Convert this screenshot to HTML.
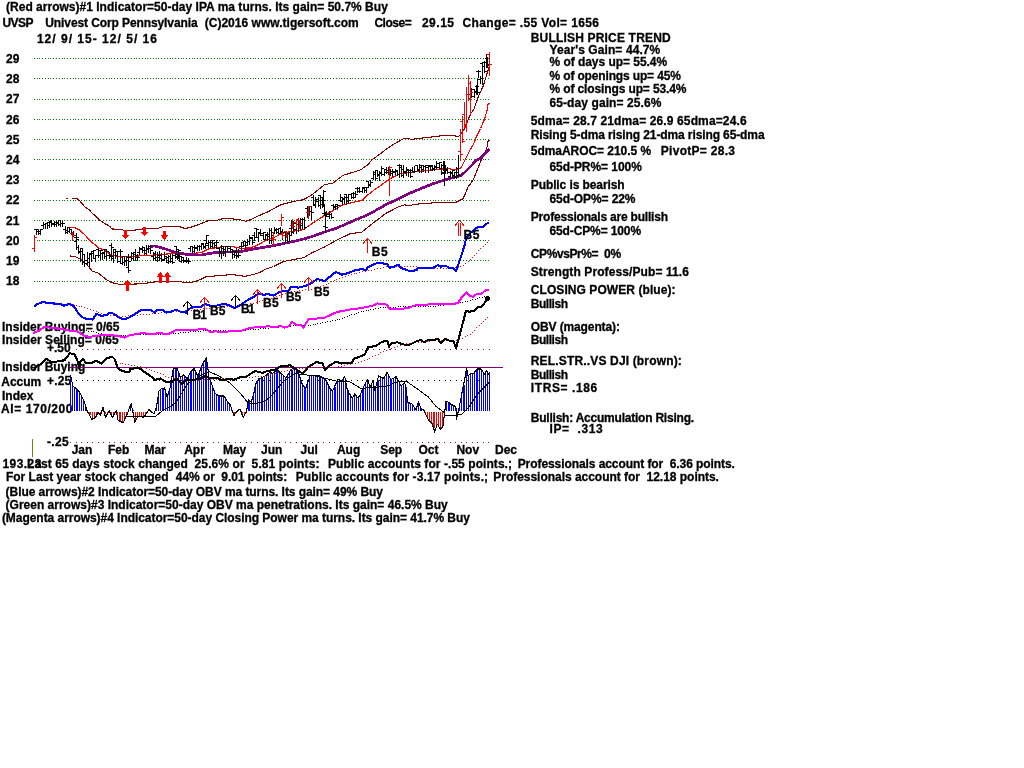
<!DOCTYPE html>
<html><head><meta charset="utf-8"><style>
html,body{margin:0;padding:0;background:#fff;width:1024px;height:768px;overflow:hidden}
.t{position:absolute;font:bold 12px/12px 'Liberation Sans', sans-serif;white-space:pre;color:#000;-webkit-text-stroke:0.3px #000}
#tx,#tb{position:absolute;left:0;top:0;width:1024px;height:768px;will-change:transform}
svg{position:absolute;left:0;top:0;shape-rendering:crispEdges}
</style></head><body>
<div id="tb">
<div class="t" style="left:2.00px;top:321.00px;letter-spacing:0.021px">Insider Buying= 0/65</div>
<div class="t" style="left:2.00px;top:334.00px;letter-spacing:0.050px">Insider Selling= 0/65</div>
<div class="t" style="left:47.00px;top:342.00px">+.50</div>
<div class="t" style="left:2.00px;top:361.00px">Insider Buying</div>
<div class="t" style="left:1.25px;top:376.00px">Accum</div>
<div class="t" style="left:47.00px;top:375.00px;letter-spacing:0.167px">+.25</div>
<div class="t" style="left:2.00px;top:390.00px">Index</div>
<div class="t" style="left:1.00px;top:403.00px;letter-spacing:0.575px">AI= 170/200</div>
</div>
<svg width="1024" height="768" viewBox="0 0 1024 768">
<path d="M34 58h1v1h-1zM37 58h1v1h-1zM39 58h1v1h-1zM42 58h1v1h-1zM45 58h1v1h-1zM48 58h1v1h-1zM50 58h1v1h-1zM53 58h1v1h-1zM56 58h1v1h-1zM59 58h1v1h-1zM62 58h1v1h-1zM64 58h1v1h-1zM67 58h1v1h-1zM70 58h1v1h-1zM73 58h1v1h-1zM75 58h1v1h-1zM78 58h1v1h-1zM81 58h1v1h-1zM84 58h1v1h-1zM86 58h1v1h-1zM89 58h1v1h-1zM92 58h1v1h-1zM95 58h1v1h-1zM98 58h1v1h-1zM100 58h1v1h-1zM103 58h1v1h-1zM106 58h1v1h-1zM109 58h1v1h-1zM111 58h1v1h-1zM114 58h1v1h-1zM117 58h1v1h-1zM120 58h1v1h-1zM122 58h1v1h-1zM125 58h1v1h-1zM128 58h1v1h-1zM131 58h1v1h-1zM134 58h1v1h-1zM136 58h1v1h-1zM139 58h1v1h-1zM142 58h1v1h-1zM145 58h1v1h-1zM147 58h1v1h-1zM150 58h1v1h-1zM153 58h1v1h-1zM156 58h1v1h-1zM158 58h1v1h-1zM161 58h1v1h-1zM164 58h1v1h-1zM167 58h1v1h-1zM170 58h1v1h-1zM172 58h1v1h-1zM175 58h1v1h-1zM178 58h1v1h-1zM181 58h1v1h-1zM183 58h1v1h-1zM186 58h1v1h-1zM189 58h1v1h-1zM192 58h1v1h-1zM194 58h1v1h-1zM197 58h1v1h-1zM200 58h1v1h-1zM203 58h1v1h-1zM206 58h1v1h-1zM208 58h1v1h-1zM211 58h1v1h-1zM214 58h1v1h-1zM217 58h1v1h-1zM219 58h1v1h-1zM222 58h1v1h-1zM225 58h1v1h-1zM228 58h1v1h-1zM230 58h1v1h-1zM233 58h1v1h-1zM236 58h1v1h-1zM239 58h1v1h-1zM242 58h1v1h-1zM244 58h1v1h-1zM247 58h1v1h-1zM250 58h1v1h-1zM253 58h1v1h-1zM255 58h1v1h-1zM258 58h1v1h-1zM261 58h1v1h-1zM264 58h1v1h-1zM266 58h1v1h-1zM269 58h1v1h-1zM272 58h1v1h-1zM275 58h1v1h-1zM278 58h1v1h-1zM280 58h1v1h-1zM283 58h1v1h-1zM286 58h1v1h-1zM289 58h1v1h-1zM291 58h1v1h-1zM294 58h1v1h-1zM297 58h1v1h-1zM300 58h1v1h-1zM302 58h1v1h-1zM305 58h1v1h-1zM308 58h1v1h-1zM311 58h1v1h-1zM314 58h1v1h-1zM316 58h1v1h-1zM319 58h1v1h-1zM322 58h1v1h-1zM325 58h1v1h-1zM327 58h1v1h-1zM330 58h1v1h-1zM333 58h1v1h-1zM336 58h1v1h-1zM339 58h1v1h-1zM341 58h1v1h-1zM344 58h1v1h-1zM347 58h1v1h-1zM350 58h1v1h-1zM352 58h1v1h-1zM355 58h1v1h-1zM358 58h1v1h-1zM361 58h1v1h-1zM363 58h1v1h-1zM366 58h1v1h-1zM369 58h1v1h-1zM372 58h1v1h-1zM375 58h1v1h-1zM377 58h1v1h-1zM380 58h1v1h-1zM383 58h1v1h-1zM386 58h1v1h-1zM388 58h1v1h-1zM391 58h1v1h-1zM394 58h1v1h-1zM397 58h1v1h-1zM399 58h1v1h-1zM402 58h1v1h-1zM405 58h1v1h-1zM408 58h1v1h-1zM411 58h1v1h-1zM413 58h1v1h-1zM416 58h1v1h-1zM419 58h1v1h-1zM422 58h1v1h-1zM424 58h1v1h-1zM427 58h1v1h-1zM430 58h1v1h-1zM433 58h1v1h-1zM435 58h1v1h-1zM438 58h1v1h-1zM441 58h1v1h-1zM444 58h1v1h-1zM447 58h1v1h-1zM449 58h1v1h-1zM452 58h1v1h-1zM455 58h1v1h-1zM458 58h1v1h-1zM460 58h1v1h-1zM463 58h1v1h-1zM466 58h1v1h-1zM469 58h1v1h-1zM471 58h1v1h-1zM474 58h1v1h-1zM477 58h1v1h-1zM480 58h1v1h-1zM483 58h1v1h-1zM485 58h1v1h-1zM488 58h1v1h-1zM34 78h1v1h-1zM37 78h1v1h-1zM39 78h1v1h-1zM42 78h1v1h-1zM45 78h1v1h-1zM48 78h1v1h-1zM50 78h1v1h-1zM53 78h1v1h-1zM56 78h1v1h-1zM59 78h1v1h-1zM62 78h1v1h-1zM64 78h1v1h-1zM67 78h1v1h-1zM70 78h1v1h-1zM73 78h1v1h-1zM75 78h1v1h-1zM78 78h1v1h-1zM81 78h1v1h-1zM84 78h1v1h-1zM86 78h1v1h-1zM89 78h1v1h-1zM92 78h1v1h-1zM95 78h1v1h-1zM98 78h1v1h-1zM100 78h1v1h-1zM103 78h1v1h-1zM106 78h1v1h-1zM109 78h1v1h-1zM111 78h1v1h-1zM114 78h1v1h-1zM117 78h1v1h-1zM120 78h1v1h-1zM122 78h1v1h-1zM125 78h1v1h-1zM128 78h1v1h-1zM131 78h1v1h-1zM134 78h1v1h-1zM136 78h1v1h-1zM139 78h1v1h-1zM142 78h1v1h-1zM145 78h1v1h-1zM147 78h1v1h-1zM150 78h1v1h-1zM153 78h1v1h-1zM156 78h1v1h-1zM158 78h1v1h-1zM161 78h1v1h-1zM164 78h1v1h-1zM167 78h1v1h-1zM170 78h1v1h-1zM172 78h1v1h-1zM175 78h1v1h-1zM178 78h1v1h-1zM181 78h1v1h-1zM183 78h1v1h-1zM186 78h1v1h-1zM189 78h1v1h-1zM192 78h1v1h-1zM194 78h1v1h-1zM197 78h1v1h-1zM200 78h1v1h-1zM203 78h1v1h-1zM206 78h1v1h-1zM208 78h1v1h-1zM211 78h1v1h-1zM214 78h1v1h-1zM217 78h1v1h-1zM219 78h1v1h-1zM222 78h1v1h-1zM225 78h1v1h-1zM228 78h1v1h-1zM230 78h1v1h-1zM233 78h1v1h-1zM236 78h1v1h-1zM239 78h1v1h-1zM242 78h1v1h-1zM244 78h1v1h-1zM247 78h1v1h-1zM250 78h1v1h-1zM253 78h1v1h-1zM255 78h1v1h-1zM258 78h1v1h-1zM261 78h1v1h-1zM264 78h1v1h-1zM266 78h1v1h-1zM269 78h1v1h-1zM272 78h1v1h-1zM275 78h1v1h-1zM278 78h1v1h-1zM280 78h1v1h-1zM283 78h1v1h-1zM286 78h1v1h-1zM289 78h1v1h-1zM291 78h1v1h-1zM294 78h1v1h-1zM297 78h1v1h-1zM300 78h1v1h-1zM302 78h1v1h-1zM305 78h1v1h-1zM308 78h1v1h-1zM311 78h1v1h-1zM314 78h1v1h-1zM316 78h1v1h-1zM319 78h1v1h-1zM322 78h1v1h-1zM325 78h1v1h-1zM327 78h1v1h-1zM330 78h1v1h-1zM333 78h1v1h-1zM336 78h1v1h-1zM339 78h1v1h-1zM341 78h1v1h-1zM344 78h1v1h-1zM347 78h1v1h-1zM350 78h1v1h-1zM352 78h1v1h-1zM355 78h1v1h-1zM358 78h1v1h-1zM361 78h1v1h-1zM363 78h1v1h-1zM366 78h1v1h-1zM369 78h1v1h-1zM372 78h1v1h-1zM375 78h1v1h-1zM377 78h1v1h-1zM380 78h1v1h-1zM383 78h1v1h-1zM386 78h1v1h-1zM388 78h1v1h-1zM391 78h1v1h-1zM394 78h1v1h-1zM397 78h1v1h-1zM399 78h1v1h-1zM402 78h1v1h-1zM405 78h1v1h-1zM408 78h1v1h-1zM411 78h1v1h-1zM413 78h1v1h-1zM416 78h1v1h-1zM419 78h1v1h-1zM422 78h1v1h-1zM424 78h1v1h-1zM427 78h1v1h-1zM430 78h1v1h-1zM433 78h1v1h-1zM435 78h1v1h-1zM438 78h1v1h-1zM441 78h1v1h-1zM444 78h1v1h-1zM447 78h1v1h-1zM449 78h1v1h-1zM452 78h1v1h-1zM455 78h1v1h-1zM458 78h1v1h-1zM460 78h1v1h-1zM463 78h1v1h-1zM466 78h1v1h-1zM469 78h1v1h-1zM471 78h1v1h-1zM474 78h1v1h-1zM477 78h1v1h-1zM480 78h1v1h-1zM483 78h1v1h-1zM485 78h1v1h-1zM488 78h1v1h-1zM34 99h1v1h-1zM37 99h1v1h-1zM39 99h1v1h-1zM42 99h1v1h-1zM45 99h1v1h-1zM48 99h1v1h-1zM50 99h1v1h-1zM53 99h1v1h-1zM56 99h1v1h-1zM59 99h1v1h-1zM62 99h1v1h-1zM64 99h1v1h-1zM67 99h1v1h-1zM70 99h1v1h-1zM73 99h1v1h-1zM75 99h1v1h-1zM78 99h1v1h-1zM81 99h1v1h-1zM84 99h1v1h-1zM86 99h1v1h-1zM89 99h1v1h-1zM92 99h1v1h-1zM95 99h1v1h-1zM98 99h1v1h-1zM100 99h1v1h-1zM103 99h1v1h-1zM106 99h1v1h-1zM109 99h1v1h-1zM111 99h1v1h-1zM114 99h1v1h-1zM117 99h1v1h-1zM120 99h1v1h-1zM122 99h1v1h-1zM125 99h1v1h-1zM128 99h1v1h-1zM131 99h1v1h-1zM134 99h1v1h-1zM136 99h1v1h-1zM139 99h1v1h-1zM142 99h1v1h-1zM145 99h1v1h-1zM147 99h1v1h-1zM150 99h1v1h-1zM153 99h1v1h-1zM156 99h1v1h-1zM158 99h1v1h-1zM161 99h1v1h-1zM164 99h1v1h-1zM167 99h1v1h-1zM170 99h1v1h-1zM172 99h1v1h-1zM175 99h1v1h-1zM178 99h1v1h-1zM181 99h1v1h-1zM183 99h1v1h-1zM186 99h1v1h-1zM189 99h1v1h-1zM192 99h1v1h-1zM194 99h1v1h-1zM197 99h1v1h-1zM200 99h1v1h-1zM203 99h1v1h-1zM206 99h1v1h-1zM208 99h1v1h-1zM211 99h1v1h-1zM214 99h1v1h-1zM217 99h1v1h-1zM219 99h1v1h-1zM222 99h1v1h-1zM225 99h1v1h-1zM228 99h1v1h-1zM230 99h1v1h-1zM233 99h1v1h-1zM236 99h1v1h-1zM239 99h1v1h-1zM242 99h1v1h-1zM244 99h1v1h-1zM247 99h1v1h-1zM250 99h1v1h-1zM253 99h1v1h-1zM255 99h1v1h-1zM258 99h1v1h-1zM261 99h1v1h-1zM264 99h1v1h-1zM266 99h1v1h-1zM269 99h1v1h-1zM272 99h1v1h-1zM275 99h1v1h-1zM278 99h1v1h-1zM280 99h1v1h-1zM283 99h1v1h-1zM286 99h1v1h-1zM289 99h1v1h-1zM291 99h1v1h-1zM294 99h1v1h-1zM297 99h1v1h-1zM300 99h1v1h-1zM302 99h1v1h-1zM305 99h1v1h-1zM308 99h1v1h-1zM311 99h1v1h-1zM314 99h1v1h-1zM316 99h1v1h-1zM319 99h1v1h-1zM322 99h1v1h-1zM325 99h1v1h-1zM327 99h1v1h-1zM330 99h1v1h-1zM333 99h1v1h-1zM336 99h1v1h-1zM339 99h1v1h-1zM341 99h1v1h-1zM344 99h1v1h-1zM347 99h1v1h-1zM350 99h1v1h-1zM352 99h1v1h-1zM355 99h1v1h-1zM358 99h1v1h-1zM361 99h1v1h-1zM363 99h1v1h-1zM366 99h1v1h-1zM369 99h1v1h-1zM372 99h1v1h-1zM375 99h1v1h-1zM377 99h1v1h-1zM380 99h1v1h-1zM383 99h1v1h-1zM386 99h1v1h-1zM388 99h1v1h-1zM391 99h1v1h-1zM394 99h1v1h-1zM397 99h1v1h-1zM399 99h1v1h-1zM402 99h1v1h-1zM405 99h1v1h-1zM408 99h1v1h-1zM411 99h1v1h-1zM413 99h1v1h-1zM416 99h1v1h-1zM419 99h1v1h-1zM422 99h1v1h-1zM424 99h1v1h-1zM427 99h1v1h-1zM430 99h1v1h-1zM433 99h1v1h-1zM435 99h1v1h-1zM438 99h1v1h-1zM441 99h1v1h-1zM444 99h1v1h-1zM447 99h1v1h-1zM449 99h1v1h-1zM452 99h1v1h-1zM455 99h1v1h-1zM458 99h1v1h-1zM460 99h1v1h-1zM463 99h1v1h-1zM466 99h1v1h-1zM469 99h1v1h-1zM471 99h1v1h-1zM474 99h1v1h-1zM477 99h1v1h-1zM480 99h1v1h-1zM483 99h1v1h-1zM485 99h1v1h-1zM488 99h1v1h-1zM34 119h1v1h-1zM37 119h1v1h-1zM39 119h1v1h-1zM42 119h1v1h-1zM45 119h1v1h-1zM48 119h1v1h-1zM50 119h1v1h-1zM53 119h1v1h-1zM56 119h1v1h-1zM59 119h1v1h-1zM62 119h1v1h-1zM64 119h1v1h-1zM67 119h1v1h-1zM70 119h1v1h-1zM73 119h1v1h-1zM75 119h1v1h-1zM78 119h1v1h-1zM81 119h1v1h-1zM84 119h1v1h-1zM86 119h1v1h-1zM89 119h1v1h-1zM92 119h1v1h-1zM95 119h1v1h-1zM98 119h1v1h-1zM100 119h1v1h-1zM103 119h1v1h-1zM106 119h1v1h-1zM109 119h1v1h-1zM111 119h1v1h-1zM114 119h1v1h-1zM117 119h1v1h-1zM120 119h1v1h-1zM122 119h1v1h-1zM125 119h1v1h-1zM128 119h1v1h-1zM131 119h1v1h-1zM134 119h1v1h-1zM136 119h1v1h-1zM139 119h1v1h-1zM142 119h1v1h-1zM145 119h1v1h-1zM147 119h1v1h-1zM150 119h1v1h-1zM153 119h1v1h-1zM156 119h1v1h-1zM158 119h1v1h-1zM161 119h1v1h-1zM164 119h1v1h-1zM167 119h1v1h-1zM170 119h1v1h-1zM172 119h1v1h-1zM175 119h1v1h-1zM178 119h1v1h-1zM181 119h1v1h-1zM183 119h1v1h-1zM186 119h1v1h-1zM189 119h1v1h-1zM192 119h1v1h-1zM194 119h1v1h-1zM197 119h1v1h-1zM200 119h1v1h-1zM203 119h1v1h-1zM206 119h1v1h-1zM208 119h1v1h-1zM211 119h1v1h-1zM214 119h1v1h-1zM217 119h1v1h-1zM219 119h1v1h-1zM222 119h1v1h-1zM225 119h1v1h-1zM228 119h1v1h-1zM230 119h1v1h-1zM233 119h1v1h-1zM236 119h1v1h-1zM239 119h1v1h-1zM242 119h1v1h-1zM244 119h1v1h-1zM247 119h1v1h-1zM250 119h1v1h-1zM253 119h1v1h-1zM255 119h1v1h-1zM258 119h1v1h-1zM261 119h1v1h-1zM264 119h1v1h-1zM266 119h1v1h-1zM269 119h1v1h-1zM272 119h1v1h-1zM275 119h1v1h-1zM278 119h1v1h-1zM280 119h1v1h-1zM283 119h1v1h-1zM286 119h1v1h-1zM289 119h1v1h-1zM291 119h1v1h-1zM294 119h1v1h-1zM297 119h1v1h-1zM300 119h1v1h-1zM302 119h1v1h-1zM305 119h1v1h-1zM308 119h1v1h-1zM311 119h1v1h-1zM314 119h1v1h-1zM316 119h1v1h-1zM319 119h1v1h-1zM322 119h1v1h-1zM325 119h1v1h-1zM327 119h1v1h-1zM330 119h1v1h-1zM333 119h1v1h-1zM336 119h1v1h-1zM339 119h1v1h-1zM341 119h1v1h-1zM344 119h1v1h-1zM347 119h1v1h-1zM350 119h1v1h-1zM352 119h1v1h-1zM355 119h1v1h-1zM358 119h1v1h-1zM361 119h1v1h-1zM363 119h1v1h-1zM366 119h1v1h-1zM369 119h1v1h-1zM372 119h1v1h-1zM375 119h1v1h-1zM377 119h1v1h-1zM380 119h1v1h-1zM383 119h1v1h-1zM386 119h1v1h-1zM388 119h1v1h-1zM391 119h1v1h-1zM394 119h1v1h-1zM397 119h1v1h-1zM399 119h1v1h-1zM402 119h1v1h-1zM405 119h1v1h-1zM408 119h1v1h-1zM411 119h1v1h-1zM413 119h1v1h-1zM416 119h1v1h-1zM419 119h1v1h-1zM422 119h1v1h-1zM424 119h1v1h-1zM427 119h1v1h-1zM430 119h1v1h-1zM433 119h1v1h-1zM435 119h1v1h-1zM438 119h1v1h-1zM441 119h1v1h-1zM444 119h1v1h-1zM447 119h1v1h-1zM449 119h1v1h-1zM452 119h1v1h-1zM455 119h1v1h-1zM458 119h1v1h-1zM460 119h1v1h-1zM463 119h1v1h-1zM466 119h1v1h-1zM469 119h1v1h-1zM471 119h1v1h-1zM474 119h1v1h-1zM477 119h1v1h-1zM480 119h1v1h-1zM483 119h1v1h-1zM485 119h1v1h-1zM488 119h1v1h-1zM34 139h1v1h-1zM37 139h1v1h-1zM39 139h1v1h-1zM42 139h1v1h-1zM45 139h1v1h-1zM48 139h1v1h-1zM50 139h1v1h-1zM53 139h1v1h-1zM56 139h1v1h-1zM59 139h1v1h-1zM62 139h1v1h-1zM64 139h1v1h-1zM67 139h1v1h-1zM70 139h1v1h-1zM73 139h1v1h-1zM75 139h1v1h-1zM78 139h1v1h-1zM81 139h1v1h-1zM84 139h1v1h-1zM86 139h1v1h-1zM89 139h1v1h-1zM92 139h1v1h-1zM95 139h1v1h-1zM98 139h1v1h-1zM100 139h1v1h-1zM103 139h1v1h-1zM106 139h1v1h-1zM109 139h1v1h-1zM111 139h1v1h-1zM114 139h1v1h-1zM117 139h1v1h-1zM120 139h1v1h-1zM122 139h1v1h-1zM125 139h1v1h-1zM128 139h1v1h-1zM131 139h1v1h-1zM134 139h1v1h-1zM136 139h1v1h-1zM139 139h1v1h-1zM142 139h1v1h-1zM145 139h1v1h-1zM147 139h1v1h-1zM150 139h1v1h-1zM153 139h1v1h-1zM156 139h1v1h-1zM158 139h1v1h-1zM161 139h1v1h-1zM164 139h1v1h-1zM167 139h1v1h-1zM170 139h1v1h-1zM172 139h1v1h-1zM175 139h1v1h-1zM178 139h1v1h-1zM181 139h1v1h-1zM183 139h1v1h-1zM186 139h1v1h-1zM189 139h1v1h-1zM192 139h1v1h-1zM194 139h1v1h-1zM197 139h1v1h-1zM200 139h1v1h-1zM203 139h1v1h-1zM206 139h1v1h-1zM208 139h1v1h-1zM211 139h1v1h-1zM214 139h1v1h-1zM217 139h1v1h-1zM219 139h1v1h-1zM222 139h1v1h-1zM225 139h1v1h-1zM228 139h1v1h-1zM230 139h1v1h-1zM233 139h1v1h-1zM236 139h1v1h-1zM239 139h1v1h-1zM242 139h1v1h-1zM244 139h1v1h-1zM247 139h1v1h-1zM250 139h1v1h-1zM253 139h1v1h-1zM255 139h1v1h-1zM258 139h1v1h-1zM261 139h1v1h-1zM264 139h1v1h-1zM266 139h1v1h-1zM269 139h1v1h-1zM272 139h1v1h-1zM275 139h1v1h-1zM278 139h1v1h-1zM280 139h1v1h-1zM283 139h1v1h-1zM286 139h1v1h-1zM289 139h1v1h-1zM291 139h1v1h-1zM294 139h1v1h-1zM297 139h1v1h-1zM300 139h1v1h-1zM302 139h1v1h-1zM305 139h1v1h-1zM308 139h1v1h-1zM311 139h1v1h-1zM314 139h1v1h-1zM316 139h1v1h-1zM319 139h1v1h-1zM322 139h1v1h-1zM325 139h1v1h-1zM327 139h1v1h-1zM330 139h1v1h-1zM333 139h1v1h-1zM336 139h1v1h-1zM339 139h1v1h-1zM341 139h1v1h-1zM344 139h1v1h-1zM347 139h1v1h-1zM350 139h1v1h-1zM352 139h1v1h-1zM355 139h1v1h-1zM358 139h1v1h-1zM361 139h1v1h-1zM363 139h1v1h-1zM366 139h1v1h-1zM369 139h1v1h-1zM372 139h1v1h-1zM375 139h1v1h-1zM377 139h1v1h-1zM380 139h1v1h-1zM383 139h1v1h-1zM386 139h1v1h-1zM388 139h1v1h-1zM391 139h1v1h-1zM394 139h1v1h-1zM397 139h1v1h-1zM399 139h1v1h-1zM402 139h1v1h-1zM405 139h1v1h-1zM408 139h1v1h-1zM411 139h1v1h-1zM413 139h1v1h-1zM416 139h1v1h-1zM419 139h1v1h-1zM422 139h1v1h-1zM424 139h1v1h-1zM427 139h1v1h-1zM430 139h1v1h-1zM433 139h1v1h-1zM435 139h1v1h-1zM438 139h1v1h-1zM441 139h1v1h-1zM444 139h1v1h-1zM447 139h1v1h-1zM449 139h1v1h-1zM452 139h1v1h-1zM455 139h1v1h-1zM458 139h1v1h-1zM460 139h1v1h-1zM463 139h1v1h-1zM466 139h1v1h-1zM469 139h1v1h-1zM471 139h1v1h-1zM474 139h1v1h-1zM477 139h1v1h-1zM480 139h1v1h-1zM483 139h1v1h-1zM485 139h1v1h-1zM488 139h1v1h-1zM34 159h1v1h-1zM37 159h1v1h-1zM39 159h1v1h-1zM42 159h1v1h-1zM45 159h1v1h-1zM48 159h1v1h-1zM50 159h1v1h-1zM53 159h1v1h-1zM56 159h1v1h-1zM59 159h1v1h-1zM62 159h1v1h-1zM64 159h1v1h-1zM67 159h1v1h-1zM70 159h1v1h-1zM73 159h1v1h-1zM75 159h1v1h-1zM78 159h1v1h-1zM81 159h1v1h-1zM84 159h1v1h-1zM86 159h1v1h-1zM89 159h1v1h-1zM92 159h1v1h-1zM95 159h1v1h-1zM98 159h1v1h-1zM100 159h1v1h-1zM103 159h1v1h-1zM106 159h1v1h-1zM109 159h1v1h-1zM111 159h1v1h-1zM114 159h1v1h-1zM117 159h1v1h-1zM120 159h1v1h-1zM122 159h1v1h-1zM125 159h1v1h-1zM128 159h1v1h-1zM131 159h1v1h-1zM134 159h1v1h-1zM136 159h1v1h-1zM139 159h1v1h-1zM142 159h1v1h-1zM145 159h1v1h-1zM147 159h1v1h-1zM150 159h1v1h-1zM153 159h1v1h-1zM156 159h1v1h-1zM158 159h1v1h-1zM161 159h1v1h-1zM164 159h1v1h-1zM167 159h1v1h-1zM170 159h1v1h-1zM172 159h1v1h-1zM175 159h1v1h-1zM178 159h1v1h-1zM181 159h1v1h-1zM183 159h1v1h-1zM186 159h1v1h-1zM189 159h1v1h-1zM192 159h1v1h-1zM194 159h1v1h-1zM197 159h1v1h-1zM200 159h1v1h-1zM203 159h1v1h-1zM206 159h1v1h-1zM208 159h1v1h-1zM211 159h1v1h-1zM214 159h1v1h-1zM217 159h1v1h-1zM219 159h1v1h-1zM222 159h1v1h-1zM225 159h1v1h-1zM228 159h1v1h-1zM230 159h1v1h-1zM233 159h1v1h-1zM236 159h1v1h-1zM239 159h1v1h-1zM242 159h1v1h-1zM244 159h1v1h-1zM247 159h1v1h-1zM250 159h1v1h-1zM253 159h1v1h-1zM255 159h1v1h-1zM258 159h1v1h-1zM261 159h1v1h-1zM264 159h1v1h-1zM266 159h1v1h-1zM269 159h1v1h-1zM272 159h1v1h-1zM275 159h1v1h-1zM278 159h1v1h-1zM280 159h1v1h-1zM283 159h1v1h-1zM286 159h1v1h-1zM289 159h1v1h-1zM291 159h1v1h-1zM294 159h1v1h-1zM297 159h1v1h-1zM300 159h1v1h-1zM302 159h1v1h-1zM305 159h1v1h-1zM308 159h1v1h-1zM311 159h1v1h-1zM314 159h1v1h-1zM316 159h1v1h-1zM319 159h1v1h-1zM322 159h1v1h-1zM325 159h1v1h-1zM327 159h1v1h-1zM330 159h1v1h-1zM333 159h1v1h-1zM336 159h1v1h-1zM339 159h1v1h-1zM341 159h1v1h-1zM344 159h1v1h-1zM347 159h1v1h-1zM350 159h1v1h-1zM352 159h1v1h-1zM355 159h1v1h-1zM358 159h1v1h-1zM361 159h1v1h-1zM363 159h1v1h-1zM366 159h1v1h-1zM369 159h1v1h-1zM372 159h1v1h-1zM375 159h1v1h-1zM377 159h1v1h-1zM380 159h1v1h-1zM383 159h1v1h-1zM386 159h1v1h-1zM388 159h1v1h-1zM391 159h1v1h-1zM394 159h1v1h-1zM397 159h1v1h-1zM399 159h1v1h-1zM402 159h1v1h-1zM405 159h1v1h-1zM408 159h1v1h-1zM411 159h1v1h-1zM413 159h1v1h-1zM416 159h1v1h-1zM419 159h1v1h-1zM422 159h1v1h-1zM424 159h1v1h-1zM427 159h1v1h-1zM430 159h1v1h-1zM433 159h1v1h-1zM435 159h1v1h-1zM438 159h1v1h-1zM441 159h1v1h-1zM444 159h1v1h-1zM447 159h1v1h-1zM449 159h1v1h-1zM452 159h1v1h-1zM455 159h1v1h-1zM458 159h1v1h-1zM460 159h1v1h-1zM463 159h1v1h-1zM466 159h1v1h-1zM469 159h1v1h-1zM471 159h1v1h-1zM474 159h1v1h-1zM477 159h1v1h-1zM480 159h1v1h-1zM483 159h1v1h-1zM485 159h1v1h-1zM488 159h1v1h-1zM34 180h1v1h-1zM37 180h1v1h-1zM39 180h1v1h-1zM42 180h1v1h-1zM45 180h1v1h-1zM48 180h1v1h-1zM50 180h1v1h-1zM53 180h1v1h-1zM56 180h1v1h-1zM59 180h1v1h-1zM62 180h1v1h-1zM64 180h1v1h-1zM67 180h1v1h-1zM70 180h1v1h-1zM73 180h1v1h-1zM75 180h1v1h-1zM78 180h1v1h-1zM81 180h1v1h-1zM84 180h1v1h-1zM86 180h1v1h-1zM89 180h1v1h-1zM92 180h1v1h-1zM95 180h1v1h-1zM98 180h1v1h-1zM100 180h1v1h-1zM103 180h1v1h-1zM106 180h1v1h-1zM109 180h1v1h-1zM111 180h1v1h-1zM114 180h1v1h-1zM117 180h1v1h-1zM120 180h1v1h-1zM122 180h1v1h-1zM125 180h1v1h-1zM128 180h1v1h-1zM131 180h1v1h-1zM134 180h1v1h-1zM136 180h1v1h-1zM139 180h1v1h-1zM142 180h1v1h-1zM145 180h1v1h-1zM147 180h1v1h-1zM150 180h1v1h-1zM153 180h1v1h-1zM156 180h1v1h-1zM158 180h1v1h-1zM161 180h1v1h-1zM164 180h1v1h-1zM167 180h1v1h-1zM170 180h1v1h-1zM172 180h1v1h-1zM175 180h1v1h-1zM178 180h1v1h-1zM181 180h1v1h-1zM183 180h1v1h-1zM186 180h1v1h-1zM189 180h1v1h-1zM192 180h1v1h-1zM194 180h1v1h-1zM197 180h1v1h-1zM200 180h1v1h-1zM203 180h1v1h-1zM206 180h1v1h-1zM208 180h1v1h-1zM211 180h1v1h-1zM214 180h1v1h-1zM217 180h1v1h-1zM219 180h1v1h-1zM222 180h1v1h-1zM225 180h1v1h-1zM228 180h1v1h-1zM230 180h1v1h-1zM233 180h1v1h-1zM236 180h1v1h-1zM239 180h1v1h-1zM242 180h1v1h-1zM244 180h1v1h-1zM247 180h1v1h-1zM250 180h1v1h-1zM253 180h1v1h-1zM255 180h1v1h-1zM258 180h1v1h-1zM261 180h1v1h-1zM264 180h1v1h-1zM266 180h1v1h-1zM269 180h1v1h-1zM272 180h1v1h-1zM275 180h1v1h-1zM278 180h1v1h-1zM280 180h1v1h-1zM283 180h1v1h-1zM286 180h1v1h-1zM289 180h1v1h-1zM291 180h1v1h-1zM294 180h1v1h-1zM297 180h1v1h-1zM300 180h1v1h-1zM302 180h1v1h-1zM305 180h1v1h-1zM308 180h1v1h-1zM311 180h1v1h-1zM314 180h1v1h-1zM316 180h1v1h-1zM319 180h1v1h-1zM322 180h1v1h-1zM325 180h1v1h-1zM327 180h1v1h-1zM330 180h1v1h-1zM333 180h1v1h-1zM336 180h1v1h-1zM339 180h1v1h-1zM341 180h1v1h-1zM344 180h1v1h-1zM347 180h1v1h-1zM350 180h1v1h-1zM352 180h1v1h-1zM355 180h1v1h-1zM358 180h1v1h-1zM361 180h1v1h-1zM363 180h1v1h-1zM366 180h1v1h-1zM369 180h1v1h-1zM372 180h1v1h-1zM375 180h1v1h-1zM377 180h1v1h-1zM380 180h1v1h-1zM383 180h1v1h-1zM386 180h1v1h-1zM388 180h1v1h-1zM391 180h1v1h-1zM394 180h1v1h-1zM397 180h1v1h-1zM399 180h1v1h-1zM402 180h1v1h-1zM405 180h1v1h-1zM408 180h1v1h-1zM411 180h1v1h-1zM413 180h1v1h-1zM416 180h1v1h-1zM419 180h1v1h-1zM422 180h1v1h-1zM424 180h1v1h-1zM427 180h1v1h-1zM430 180h1v1h-1zM433 180h1v1h-1zM435 180h1v1h-1zM438 180h1v1h-1zM441 180h1v1h-1zM444 180h1v1h-1zM447 180h1v1h-1zM449 180h1v1h-1zM452 180h1v1h-1zM455 180h1v1h-1zM458 180h1v1h-1zM460 180h1v1h-1zM463 180h1v1h-1zM466 180h1v1h-1zM469 180h1v1h-1zM471 180h1v1h-1zM474 180h1v1h-1zM477 180h1v1h-1zM480 180h1v1h-1zM483 180h1v1h-1zM485 180h1v1h-1zM488 180h1v1h-1zM34 200h1v1h-1zM37 200h1v1h-1zM39 200h1v1h-1zM42 200h1v1h-1zM45 200h1v1h-1zM48 200h1v1h-1zM50 200h1v1h-1zM53 200h1v1h-1zM56 200h1v1h-1zM59 200h1v1h-1zM62 200h1v1h-1zM64 200h1v1h-1zM67 200h1v1h-1zM70 200h1v1h-1zM73 200h1v1h-1zM75 200h1v1h-1zM78 200h1v1h-1zM81 200h1v1h-1zM84 200h1v1h-1zM86 200h1v1h-1zM89 200h1v1h-1zM92 200h1v1h-1zM95 200h1v1h-1zM98 200h1v1h-1zM100 200h1v1h-1zM103 200h1v1h-1zM106 200h1v1h-1zM109 200h1v1h-1zM111 200h1v1h-1zM114 200h1v1h-1zM117 200h1v1h-1zM120 200h1v1h-1zM122 200h1v1h-1zM125 200h1v1h-1zM128 200h1v1h-1zM131 200h1v1h-1zM134 200h1v1h-1zM136 200h1v1h-1zM139 200h1v1h-1zM142 200h1v1h-1zM145 200h1v1h-1zM147 200h1v1h-1zM150 200h1v1h-1zM153 200h1v1h-1zM156 200h1v1h-1zM158 200h1v1h-1zM161 200h1v1h-1zM164 200h1v1h-1zM167 200h1v1h-1zM170 200h1v1h-1zM172 200h1v1h-1zM175 200h1v1h-1zM178 200h1v1h-1zM181 200h1v1h-1zM183 200h1v1h-1zM186 200h1v1h-1zM189 200h1v1h-1zM192 200h1v1h-1zM194 200h1v1h-1zM197 200h1v1h-1zM200 200h1v1h-1zM203 200h1v1h-1zM206 200h1v1h-1zM208 200h1v1h-1zM211 200h1v1h-1zM214 200h1v1h-1zM217 200h1v1h-1zM219 200h1v1h-1zM222 200h1v1h-1zM225 200h1v1h-1zM228 200h1v1h-1zM230 200h1v1h-1zM233 200h1v1h-1zM236 200h1v1h-1zM239 200h1v1h-1zM242 200h1v1h-1zM244 200h1v1h-1zM247 200h1v1h-1zM250 200h1v1h-1zM253 200h1v1h-1zM255 200h1v1h-1zM258 200h1v1h-1zM261 200h1v1h-1zM264 200h1v1h-1zM266 200h1v1h-1zM269 200h1v1h-1zM272 200h1v1h-1zM275 200h1v1h-1zM278 200h1v1h-1zM280 200h1v1h-1zM283 200h1v1h-1zM286 200h1v1h-1zM289 200h1v1h-1zM291 200h1v1h-1zM294 200h1v1h-1zM297 200h1v1h-1zM300 200h1v1h-1zM302 200h1v1h-1zM305 200h1v1h-1zM308 200h1v1h-1zM311 200h1v1h-1zM314 200h1v1h-1zM316 200h1v1h-1zM319 200h1v1h-1zM322 200h1v1h-1zM325 200h1v1h-1zM327 200h1v1h-1zM330 200h1v1h-1zM333 200h1v1h-1zM336 200h1v1h-1zM339 200h1v1h-1zM341 200h1v1h-1zM344 200h1v1h-1zM347 200h1v1h-1zM350 200h1v1h-1zM352 200h1v1h-1zM355 200h1v1h-1zM358 200h1v1h-1zM361 200h1v1h-1zM363 200h1v1h-1zM366 200h1v1h-1zM369 200h1v1h-1zM372 200h1v1h-1zM375 200h1v1h-1zM377 200h1v1h-1zM380 200h1v1h-1zM383 200h1v1h-1zM386 200h1v1h-1zM388 200h1v1h-1zM391 200h1v1h-1zM394 200h1v1h-1zM397 200h1v1h-1zM399 200h1v1h-1zM402 200h1v1h-1zM405 200h1v1h-1zM408 200h1v1h-1zM411 200h1v1h-1zM413 200h1v1h-1zM416 200h1v1h-1zM419 200h1v1h-1zM422 200h1v1h-1zM424 200h1v1h-1zM427 200h1v1h-1zM430 200h1v1h-1zM433 200h1v1h-1zM435 200h1v1h-1zM438 200h1v1h-1zM441 200h1v1h-1zM444 200h1v1h-1zM447 200h1v1h-1zM449 200h1v1h-1zM452 200h1v1h-1zM455 200h1v1h-1zM458 200h1v1h-1zM460 200h1v1h-1zM463 200h1v1h-1zM466 200h1v1h-1zM469 200h1v1h-1zM471 200h1v1h-1zM474 200h1v1h-1zM477 200h1v1h-1zM480 200h1v1h-1zM483 200h1v1h-1zM485 200h1v1h-1zM488 200h1v1h-1zM34 220h1v1h-1zM37 220h1v1h-1zM39 220h1v1h-1zM42 220h1v1h-1zM45 220h1v1h-1zM48 220h1v1h-1zM50 220h1v1h-1zM53 220h1v1h-1zM56 220h1v1h-1zM59 220h1v1h-1zM62 220h1v1h-1zM64 220h1v1h-1zM67 220h1v1h-1zM70 220h1v1h-1zM73 220h1v1h-1zM75 220h1v1h-1zM78 220h1v1h-1zM81 220h1v1h-1zM84 220h1v1h-1zM86 220h1v1h-1zM89 220h1v1h-1zM92 220h1v1h-1zM95 220h1v1h-1zM98 220h1v1h-1zM100 220h1v1h-1zM103 220h1v1h-1zM106 220h1v1h-1zM109 220h1v1h-1zM111 220h1v1h-1zM114 220h1v1h-1zM117 220h1v1h-1zM120 220h1v1h-1zM122 220h1v1h-1zM125 220h1v1h-1zM128 220h1v1h-1zM131 220h1v1h-1zM134 220h1v1h-1zM136 220h1v1h-1zM139 220h1v1h-1zM142 220h1v1h-1zM145 220h1v1h-1zM147 220h1v1h-1zM150 220h1v1h-1zM153 220h1v1h-1zM156 220h1v1h-1zM158 220h1v1h-1zM161 220h1v1h-1zM164 220h1v1h-1zM167 220h1v1h-1zM170 220h1v1h-1zM172 220h1v1h-1zM175 220h1v1h-1zM178 220h1v1h-1zM181 220h1v1h-1zM183 220h1v1h-1zM186 220h1v1h-1zM189 220h1v1h-1zM192 220h1v1h-1zM194 220h1v1h-1zM197 220h1v1h-1zM200 220h1v1h-1zM203 220h1v1h-1zM206 220h1v1h-1zM208 220h1v1h-1zM211 220h1v1h-1zM214 220h1v1h-1zM217 220h1v1h-1zM219 220h1v1h-1zM222 220h1v1h-1zM225 220h1v1h-1zM228 220h1v1h-1zM230 220h1v1h-1zM233 220h1v1h-1zM236 220h1v1h-1zM239 220h1v1h-1zM242 220h1v1h-1zM244 220h1v1h-1zM247 220h1v1h-1zM250 220h1v1h-1zM253 220h1v1h-1zM255 220h1v1h-1zM258 220h1v1h-1zM261 220h1v1h-1zM264 220h1v1h-1zM266 220h1v1h-1zM269 220h1v1h-1zM272 220h1v1h-1zM275 220h1v1h-1zM278 220h1v1h-1zM280 220h1v1h-1zM283 220h1v1h-1zM286 220h1v1h-1zM289 220h1v1h-1zM291 220h1v1h-1zM294 220h1v1h-1zM297 220h1v1h-1zM300 220h1v1h-1zM302 220h1v1h-1zM305 220h1v1h-1zM308 220h1v1h-1zM311 220h1v1h-1zM314 220h1v1h-1zM316 220h1v1h-1zM319 220h1v1h-1zM322 220h1v1h-1zM325 220h1v1h-1zM327 220h1v1h-1zM330 220h1v1h-1zM333 220h1v1h-1zM336 220h1v1h-1zM339 220h1v1h-1zM341 220h1v1h-1zM344 220h1v1h-1zM347 220h1v1h-1zM350 220h1v1h-1zM352 220h1v1h-1zM355 220h1v1h-1zM358 220h1v1h-1zM361 220h1v1h-1zM363 220h1v1h-1zM366 220h1v1h-1zM369 220h1v1h-1zM372 220h1v1h-1zM375 220h1v1h-1zM377 220h1v1h-1zM380 220h1v1h-1zM383 220h1v1h-1zM386 220h1v1h-1zM388 220h1v1h-1zM391 220h1v1h-1zM394 220h1v1h-1zM397 220h1v1h-1zM399 220h1v1h-1zM402 220h1v1h-1zM405 220h1v1h-1zM408 220h1v1h-1zM411 220h1v1h-1zM413 220h1v1h-1zM416 220h1v1h-1zM419 220h1v1h-1zM422 220h1v1h-1zM424 220h1v1h-1zM427 220h1v1h-1zM430 220h1v1h-1zM433 220h1v1h-1zM435 220h1v1h-1zM438 220h1v1h-1zM441 220h1v1h-1zM444 220h1v1h-1zM447 220h1v1h-1zM449 220h1v1h-1zM452 220h1v1h-1zM455 220h1v1h-1zM458 220h1v1h-1zM460 220h1v1h-1zM463 220h1v1h-1zM466 220h1v1h-1zM469 220h1v1h-1zM471 220h1v1h-1zM474 220h1v1h-1zM477 220h1v1h-1zM480 220h1v1h-1zM483 220h1v1h-1zM485 220h1v1h-1zM488 220h1v1h-1zM34 240h1v1h-1zM37 240h1v1h-1zM39 240h1v1h-1zM42 240h1v1h-1zM45 240h1v1h-1zM48 240h1v1h-1zM50 240h1v1h-1zM53 240h1v1h-1zM56 240h1v1h-1zM59 240h1v1h-1zM62 240h1v1h-1zM64 240h1v1h-1zM67 240h1v1h-1zM70 240h1v1h-1zM73 240h1v1h-1zM75 240h1v1h-1zM78 240h1v1h-1zM81 240h1v1h-1zM84 240h1v1h-1zM86 240h1v1h-1zM89 240h1v1h-1zM92 240h1v1h-1zM95 240h1v1h-1zM98 240h1v1h-1zM100 240h1v1h-1zM103 240h1v1h-1zM106 240h1v1h-1zM109 240h1v1h-1zM111 240h1v1h-1zM114 240h1v1h-1zM117 240h1v1h-1zM120 240h1v1h-1zM122 240h1v1h-1zM125 240h1v1h-1zM128 240h1v1h-1zM131 240h1v1h-1zM134 240h1v1h-1zM136 240h1v1h-1zM139 240h1v1h-1zM142 240h1v1h-1zM145 240h1v1h-1zM147 240h1v1h-1zM150 240h1v1h-1zM153 240h1v1h-1zM156 240h1v1h-1zM158 240h1v1h-1zM161 240h1v1h-1zM164 240h1v1h-1zM167 240h1v1h-1zM170 240h1v1h-1zM172 240h1v1h-1zM175 240h1v1h-1zM178 240h1v1h-1zM181 240h1v1h-1zM183 240h1v1h-1zM186 240h1v1h-1zM189 240h1v1h-1zM192 240h1v1h-1zM194 240h1v1h-1zM197 240h1v1h-1zM200 240h1v1h-1zM203 240h1v1h-1zM206 240h1v1h-1zM208 240h1v1h-1zM211 240h1v1h-1zM214 240h1v1h-1zM217 240h1v1h-1zM219 240h1v1h-1zM222 240h1v1h-1zM225 240h1v1h-1zM228 240h1v1h-1zM230 240h1v1h-1zM233 240h1v1h-1zM236 240h1v1h-1zM239 240h1v1h-1zM242 240h1v1h-1zM244 240h1v1h-1zM247 240h1v1h-1zM250 240h1v1h-1zM253 240h1v1h-1zM255 240h1v1h-1zM258 240h1v1h-1zM261 240h1v1h-1zM264 240h1v1h-1zM266 240h1v1h-1zM269 240h1v1h-1zM272 240h1v1h-1zM275 240h1v1h-1zM278 240h1v1h-1zM280 240h1v1h-1zM283 240h1v1h-1zM286 240h1v1h-1zM289 240h1v1h-1zM291 240h1v1h-1zM294 240h1v1h-1zM297 240h1v1h-1zM300 240h1v1h-1zM302 240h1v1h-1zM305 240h1v1h-1zM308 240h1v1h-1zM311 240h1v1h-1zM314 240h1v1h-1zM316 240h1v1h-1zM319 240h1v1h-1zM322 240h1v1h-1zM325 240h1v1h-1zM327 240h1v1h-1zM330 240h1v1h-1zM333 240h1v1h-1zM336 240h1v1h-1zM339 240h1v1h-1zM341 240h1v1h-1zM344 240h1v1h-1zM347 240h1v1h-1zM350 240h1v1h-1zM352 240h1v1h-1zM355 240h1v1h-1zM358 240h1v1h-1zM361 240h1v1h-1zM363 240h1v1h-1zM366 240h1v1h-1zM369 240h1v1h-1zM372 240h1v1h-1zM375 240h1v1h-1zM377 240h1v1h-1zM380 240h1v1h-1zM383 240h1v1h-1zM386 240h1v1h-1zM388 240h1v1h-1zM391 240h1v1h-1zM394 240h1v1h-1zM397 240h1v1h-1zM399 240h1v1h-1zM402 240h1v1h-1zM405 240h1v1h-1zM408 240h1v1h-1zM411 240h1v1h-1zM413 240h1v1h-1zM416 240h1v1h-1zM419 240h1v1h-1zM422 240h1v1h-1zM424 240h1v1h-1zM427 240h1v1h-1zM430 240h1v1h-1zM433 240h1v1h-1zM435 240h1v1h-1zM438 240h1v1h-1zM441 240h1v1h-1zM444 240h1v1h-1zM447 240h1v1h-1zM449 240h1v1h-1zM452 240h1v1h-1zM455 240h1v1h-1zM458 240h1v1h-1zM460 240h1v1h-1zM463 240h1v1h-1zM466 240h1v1h-1zM469 240h1v1h-1zM471 240h1v1h-1zM474 240h1v1h-1zM477 240h1v1h-1zM480 240h1v1h-1zM483 240h1v1h-1zM485 240h1v1h-1zM488 240h1v1h-1zM34 260h1v1h-1zM37 260h1v1h-1zM39 260h1v1h-1zM42 260h1v1h-1zM45 260h1v1h-1zM48 260h1v1h-1zM50 260h1v1h-1zM53 260h1v1h-1zM56 260h1v1h-1zM59 260h1v1h-1zM62 260h1v1h-1zM64 260h1v1h-1zM67 260h1v1h-1zM70 260h1v1h-1zM73 260h1v1h-1zM75 260h1v1h-1zM78 260h1v1h-1zM81 260h1v1h-1zM84 260h1v1h-1zM86 260h1v1h-1zM89 260h1v1h-1zM92 260h1v1h-1zM95 260h1v1h-1zM98 260h1v1h-1zM100 260h1v1h-1zM103 260h1v1h-1zM106 260h1v1h-1zM109 260h1v1h-1zM111 260h1v1h-1zM114 260h1v1h-1zM117 260h1v1h-1zM120 260h1v1h-1zM122 260h1v1h-1zM125 260h1v1h-1zM128 260h1v1h-1zM131 260h1v1h-1zM134 260h1v1h-1zM136 260h1v1h-1zM139 260h1v1h-1zM142 260h1v1h-1zM145 260h1v1h-1zM147 260h1v1h-1zM150 260h1v1h-1zM153 260h1v1h-1zM156 260h1v1h-1zM158 260h1v1h-1zM161 260h1v1h-1zM164 260h1v1h-1zM167 260h1v1h-1zM170 260h1v1h-1zM172 260h1v1h-1zM175 260h1v1h-1zM178 260h1v1h-1zM181 260h1v1h-1zM183 260h1v1h-1zM186 260h1v1h-1zM189 260h1v1h-1zM192 260h1v1h-1zM194 260h1v1h-1zM197 260h1v1h-1zM200 260h1v1h-1zM203 260h1v1h-1zM206 260h1v1h-1zM208 260h1v1h-1zM211 260h1v1h-1zM214 260h1v1h-1zM217 260h1v1h-1zM219 260h1v1h-1zM222 260h1v1h-1zM225 260h1v1h-1zM228 260h1v1h-1zM230 260h1v1h-1zM233 260h1v1h-1zM236 260h1v1h-1zM239 260h1v1h-1zM242 260h1v1h-1zM244 260h1v1h-1zM247 260h1v1h-1zM250 260h1v1h-1zM253 260h1v1h-1zM255 260h1v1h-1zM258 260h1v1h-1zM261 260h1v1h-1zM264 260h1v1h-1zM266 260h1v1h-1zM269 260h1v1h-1zM272 260h1v1h-1zM275 260h1v1h-1zM278 260h1v1h-1zM280 260h1v1h-1zM283 260h1v1h-1zM286 260h1v1h-1zM289 260h1v1h-1zM291 260h1v1h-1zM294 260h1v1h-1zM297 260h1v1h-1zM300 260h1v1h-1zM302 260h1v1h-1zM305 260h1v1h-1zM308 260h1v1h-1zM311 260h1v1h-1zM314 260h1v1h-1zM316 260h1v1h-1zM319 260h1v1h-1zM322 260h1v1h-1zM325 260h1v1h-1zM327 260h1v1h-1zM330 260h1v1h-1zM333 260h1v1h-1zM336 260h1v1h-1zM339 260h1v1h-1zM341 260h1v1h-1zM344 260h1v1h-1zM347 260h1v1h-1zM350 260h1v1h-1zM352 260h1v1h-1zM355 260h1v1h-1zM358 260h1v1h-1zM361 260h1v1h-1zM363 260h1v1h-1zM366 260h1v1h-1zM369 260h1v1h-1zM372 260h1v1h-1zM375 260h1v1h-1zM377 260h1v1h-1zM380 260h1v1h-1zM383 260h1v1h-1zM386 260h1v1h-1zM388 260h1v1h-1zM391 260h1v1h-1zM394 260h1v1h-1zM397 260h1v1h-1zM399 260h1v1h-1zM402 260h1v1h-1zM405 260h1v1h-1zM408 260h1v1h-1zM411 260h1v1h-1zM413 260h1v1h-1zM416 260h1v1h-1zM419 260h1v1h-1zM422 260h1v1h-1zM424 260h1v1h-1zM427 260h1v1h-1zM430 260h1v1h-1zM433 260h1v1h-1zM435 260h1v1h-1zM438 260h1v1h-1zM441 260h1v1h-1zM444 260h1v1h-1zM447 260h1v1h-1zM449 260h1v1h-1zM452 260h1v1h-1zM455 260h1v1h-1zM458 260h1v1h-1zM460 260h1v1h-1zM463 260h1v1h-1zM466 260h1v1h-1zM469 260h1v1h-1zM471 260h1v1h-1zM474 260h1v1h-1zM477 260h1v1h-1zM480 260h1v1h-1zM483 260h1v1h-1zM485 260h1v1h-1zM488 260h1v1h-1zM34 281h1v1h-1zM37 281h1v1h-1zM39 281h1v1h-1zM42 281h1v1h-1zM45 281h1v1h-1zM48 281h1v1h-1zM50 281h1v1h-1zM53 281h1v1h-1zM56 281h1v1h-1zM59 281h1v1h-1zM62 281h1v1h-1zM64 281h1v1h-1zM67 281h1v1h-1zM70 281h1v1h-1zM73 281h1v1h-1zM75 281h1v1h-1zM78 281h1v1h-1zM81 281h1v1h-1zM84 281h1v1h-1zM86 281h1v1h-1zM89 281h1v1h-1zM92 281h1v1h-1zM95 281h1v1h-1zM98 281h1v1h-1zM100 281h1v1h-1zM103 281h1v1h-1zM106 281h1v1h-1zM109 281h1v1h-1zM111 281h1v1h-1zM114 281h1v1h-1zM117 281h1v1h-1zM120 281h1v1h-1zM122 281h1v1h-1zM125 281h1v1h-1zM128 281h1v1h-1zM131 281h1v1h-1zM134 281h1v1h-1zM136 281h1v1h-1zM139 281h1v1h-1zM142 281h1v1h-1zM145 281h1v1h-1zM147 281h1v1h-1zM150 281h1v1h-1zM153 281h1v1h-1zM156 281h1v1h-1zM158 281h1v1h-1zM161 281h1v1h-1zM164 281h1v1h-1zM167 281h1v1h-1zM170 281h1v1h-1zM172 281h1v1h-1zM175 281h1v1h-1zM178 281h1v1h-1zM181 281h1v1h-1zM183 281h1v1h-1zM186 281h1v1h-1zM189 281h1v1h-1zM192 281h1v1h-1zM194 281h1v1h-1zM197 281h1v1h-1zM200 281h1v1h-1zM203 281h1v1h-1zM206 281h1v1h-1zM208 281h1v1h-1zM211 281h1v1h-1zM214 281h1v1h-1zM217 281h1v1h-1zM219 281h1v1h-1zM222 281h1v1h-1zM225 281h1v1h-1zM228 281h1v1h-1zM230 281h1v1h-1zM233 281h1v1h-1zM236 281h1v1h-1zM239 281h1v1h-1zM242 281h1v1h-1zM244 281h1v1h-1zM247 281h1v1h-1zM250 281h1v1h-1zM253 281h1v1h-1zM255 281h1v1h-1zM258 281h1v1h-1zM261 281h1v1h-1zM264 281h1v1h-1zM266 281h1v1h-1zM269 281h1v1h-1zM272 281h1v1h-1zM275 281h1v1h-1zM278 281h1v1h-1zM280 281h1v1h-1zM283 281h1v1h-1zM286 281h1v1h-1zM289 281h1v1h-1zM291 281h1v1h-1zM294 281h1v1h-1zM297 281h1v1h-1zM300 281h1v1h-1zM302 281h1v1h-1zM305 281h1v1h-1zM308 281h1v1h-1zM311 281h1v1h-1zM314 281h1v1h-1zM316 281h1v1h-1zM319 281h1v1h-1zM322 281h1v1h-1zM325 281h1v1h-1zM327 281h1v1h-1zM330 281h1v1h-1zM333 281h1v1h-1zM336 281h1v1h-1zM339 281h1v1h-1zM341 281h1v1h-1zM344 281h1v1h-1zM347 281h1v1h-1zM350 281h1v1h-1zM352 281h1v1h-1zM355 281h1v1h-1zM358 281h1v1h-1zM361 281h1v1h-1zM363 281h1v1h-1zM366 281h1v1h-1zM369 281h1v1h-1zM372 281h1v1h-1zM375 281h1v1h-1zM377 281h1v1h-1zM380 281h1v1h-1zM383 281h1v1h-1zM386 281h1v1h-1zM388 281h1v1h-1zM391 281h1v1h-1zM394 281h1v1h-1zM397 281h1v1h-1zM399 281h1v1h-1zM402 281h1v1h-1zM405 281h1v1h-1zM408 281h1v1h-1zM411 281h1v1h-1zM413 281h1v1h-1zM416 281h1v1h-1zM419 281h1v1h-1zM422 281h1v1h-1zM424 281h1v1h-1zM427 281h1v1h-1zM430 281h1v1h-1zM433 281h1v1h-1zM435 281h1v1h-1zM438 281h1v1h-1zM441 281h1v1h-1zM444 281h1v1h-1zM447 281h1v1h-1zM449 281h1v1h-1zM452 281h1v1h-1zM455 281h1v1h-1zM458 281h1v1h-1zM460 281h1v1h-1zM463 281h1v1h-1zM466 281h1v1h-1zM469 281h1v1h-1zM471 281h1v1h-1zM474 281h1v1h-1zM477 281h1v1h-1zM480 281h1v1h-1zM483 281h1v1h-1zM485 281h1v1h-1zM488 281h1v1h-1z" fill="#008000" shape-rendering="crispEdges"/>
<line x1="76" y1="349.5" x2="490" y2="349.5" stroke="#800080" stroke-width="1" stroke-dasharray="1 4.5"/>
<line x1="76" y1="380.5" x2="490" y2="380.5" stroke="#000" stroke-width="1" stroke-dasharray="1 4.5"/>
<line x1="70" y1="442.5" x2="490" y2="442.5" stroke="#800080" stroke-width="1" stroke-dasharray="1 4.5"/>
<line x1="70" y1="367.5" x2="503" y2="367.5" stroke="#800080" stroke-width="1.2"/>
<line x1="32.5" y1="439" x2="32.5" y2="457" stroke="#808000" stroke-width="1"/>
<path d="M70 375h1v36h-1zM72 384h1v27h-1zM74 387h1v24h-1zM76 389h2v22h-2zM79 392h1v19h-1zM81 396h1v15h-1zM83 400h1v11h-1zM85 406h1v5h-1zM102 409h1v2h-1zM128 410h1v1h-1zM130 405h1v6h-1zM132 410h2v1h-2zM156 407h1v4h-1zM158 394h1v17h-1zM160 390h1v21h-1zM162 388h2v23h-2zM165 391h1v20h-1zM167 396h1v15h-1zM169 390h1v21h-1zM171 380h1v31h-1zM173 368h1v43h-1zM175 368h2v43h-2zM178 372h1v39h-1zM180 377h1v34h-1zM182 376h1v35h-1zM184 375h1v36h-1zM186 378h1v33h-1zM188 376h1v35h-1zM190 372h2v39h-2zM193 369h1v42h-1zM195 372h1v39h-1zM197 376h1v35h-1zM199 372h1v39h-1zM201 367h1v44h-1zM203 362h1v49h-1zM205 359h2v52h-2zM208 373h1v38h-1zM210 381h1v30h-1zM212 386h1v25h-1zM214 392h1v19h-1zM216 394h1v17h-1zM218 396h2v15h-2zM221 396h1v15h-1zM223 396h1v15h-1zM225 398h1v13h-1zM227 401h1v10h-1zM229 404h1v7h-1zM231 408h1v3h-1zM238 410h1v1h-1zM240 410h1v1h-1zM248 401h2v10h-2zM251 401h1v10h-1zM253 394h1v17h-1zM255 386h1v25h-1zM257 381h1v30h-1zM259 379h1v32h-1zM261 378h2v33h-2zM264 376h1v35h-1zM266 375h1v36h-1zM268 373h1v38h-1zM270 372h1v39h-1zM272 374h1v37h-1zM274 372h1v39h-1zM276 370h2v41h-2zM279 372h1v39h-1zM281 374h1v37h-1zM283 375h1v36h-1zM285 377h1v34h-1zM287 376h1v35h-1zM289 372h1v39h-1zM291 370h2v41h-2zM294 368h1v43h-1zM296 371h1v40h-1zM298 373h1v38h-1zM300 379h1v32h-1zM302 385h1v26h-1zM304 387h2v24h-2zM307 383h1v28h-1zM309 377h1v34h-1zM311 376h1v35h-1zM313 376h1v35h-1zM315 375h1v36h-1zM317 376h1v35h-1zM319 376h2v35h-2zM322 377h1v34h-1zM324 378h1v33h-1zM326 382h1v29h-1zM328 386h1v25h-1zM330 389h1v22h-1zM332 391h1v20h-1zM334 387h2v24h-2zM337 381h1v30h-1zM339 380h1v31h-1zM341 380h1v31h-1zM343 378h1v33h-1zM345 381h1v30h-1zM347 390h2v21h-2zM350 395h1v16h-1zM352 398h1v13h-1zM354 394h1v17h-1zM356 396h1v15h-1zM358 397h1v14h-1zM360 394h1v17h-1zM362 389h2v22h-2zM365 383h1v28h-1zM367 380h1v31h-1zM369 385h1v26h-1zM371 384h1v27h-1zM373 384h1v27h-1zM375 388h1v23h-1zM377 380h2v31h-2zM380 377h1v34h-1zM382 378h1v33h-1zM384 377h1v34h-1zM386 374h1v37h-1zM388 375h1v36h-1zM390 379h2v32h-2zM393 378h1v33h-1zM395 377h1v34h-1zM397 379h1v32h-1zM399 383h1v28h-1zM401 386h1v25h-1zM403 384h1v27h-1zM405 387h2v24h-2zM408 403h1v8h-1zM410 403h1v8h-1zM412 404h1v7h-1zM414 407h1v4h-1zM416 408h1v3h-1zM418 402h1v9h-1zM420 408h2v3h-2zM423 410h1v1h-1zM446 402h1v9h-1zM448 402h2v9h-2zM451 405h1v6h-1zM453 405h1v6h-1zM455 407h1v4h-1zM459 406h1v5h-1zM461 395h1v16h-1zM463 385h2v26h-2zM466 369h1v42h-1zM468 375h1v36h-1zM470 374h1v37h-1zM472 373h1v38h-1zM474 372h1v39h-1zM476 370h2v41h-2zM479 369h1v42h-1zM481 370h1v41h-1zM483 373h1v38h-1zM485 373h1v38h-1zM487 373h1v38h-1zM489 372h1v39h-1z" fill="#0000ff"/>
<path d="M89 412h2v3h-2zM92 412h1v7h-1zM94 412h1v6h-1zM96 412h1v4h-1zM98 412h1v1h-1zM100 412h1v3h-1zM104 412h2v2h-2zM107 412h1v2h-1zM111 412h1v4h-1zM113 412h1v3h-1zM117 412h1v6h-1zM119 412h2v9h-2zM122 412h1v11h-1zM124 412h1v8h-1zM126 412h1v4h-1zM135 412h1v9h-1zM137 412h1v5h-1zM139 412h1v4h-1zM141 412h1v5h-1zM143 412h1v5h-1zM145 412h1v3h-1zM152 412h1v1h-1zM154 412h1v1h-1zM233 412h2v2h-2zM242 412h1v4h-1zM244 412h1v3h-1zM425 412h1v2h-1zM427 412h1v6h-1zM429 412h1v9h-1zM431 412h1v11h-1zM433 412h2v16h-2zM436 412h1v14h-1zM438 412h1v14h-1zM440 412h1v17h-1zM442 412h1v15h-1zM444 412h1v2h-1zM457 412h1v3h-1z" fill="#ff0000"/>
<polyline points="70.50,375.00 73.00,386.25 76.75,388.75 80.50,393.75 84.25,401.25 86.75,410.00 91.75,419.40 95.50,417.50 98.00,412.50 100.50,415.00 103.00,407.50 105.50,417.50 109.25,410.60 112.40,417.50 116.10,410.60 118.00,420.00 123.00,423.00 126.75,415.00 131.10,403.75 133.00,412.50 134.90,422.50 138.00,416.25 144.00,417.25 149.00,409.75 154.00,414.00 156.50,407.00 159.00,391.00 161.50,388.50 164.60,388.00 167.10,397.25 170.25,387.25 173.40,368.50 177.10,368.25 180.25,377.25 184.00,374.75 187.10,379.10 190.25,372.25 194.00,368.50 197.75,376.00 202.75,363.50 206.50,357.90 209.00,377.25 212.10,385.40 215.25,393.50 219.00,396.00 224.00,396.00 227.10,401.00 230.25,404.75 234.00,416.00 236.50,411.60 240.00,409.00 243.10,417.25 246.25,412.25 248.75,399.75 251.25,402.25 253.75,393.50 256.25,382.25 258.75,379.00 265.00,376.00 270.00,372.25 272.50,373.50 277.50,369.75 281.25,373.50 286.25,377.90 290.00,371.00 293.75,367.25 298.75,373.50 302.50,384.75 305.60,388.50 310.00,376.00 315.00,375.40 320.00,376.00 325.00,378.50 330.00,388.50 332.50,391.00 336.00,383.50 337.90,379.75 342.25,380.40 344.75,376.60 347.25,389.75 352.25,398.50 354.75,393.50 357.25,397.25 359.75,396.00 362.25,389.75 367.25,379.75 370.40,387.25 372.90,380.40 374.75,391.00 378.50,376.00 381.00,377.25 383.50,378.50 387.25,372.25 391.00,379.75 396.00,376.60 401.00,386.00 404.75,382.25 407.90,402.25 412.25,404.10 416.00,409.75 418.50,401.50 421.00,409.00 423.50,409.60 428.50,420.25 432.25,424.00 434.75,432.10 437.25,424.00 440.40,429.00 442.90,426.50 446.00,401.50 448.50,402.10 451.00,404.60 453.50,405.25 456.00,407.75 456.60,419.00 459.10,407.75 462.25,391.50 464.75,379.00 466.60,368.40 467.90,375.90 471.00,373.40 473.50,373.40 477.25,369.00 481.00,369.00 484.75,374.60 486.60,370.25 487.90,374.60 489.75,372.10" fill="none" stroke="#000" stroke-width="1.1" stroke-linejoin="round" />
<polyline points="125.50,416.90 144.00,416.00 155.25,416.60 162.75,410.40 175.25,403.50 187.75,383.50 200.25,376.00 209.00,371.60 219.00,376.00 229.00,382.25 240.00,392.90 247.50,402.25 253.75,404.10 265.00,401.00 271.25,396.00 283.75,381.00 295.00,373.50 315.00,376.00 336.00,381.00 348.50,381.00 361.00,388.50 373.50,387.25 386.00,386.60 396.00,382.25 406.00,381.00 418.50,389.75 428.50,397.10 436.00,406.50 443.50,412.10 444.75,415.25 457.25,415.25 462.25,414.00 467.25,409.00 478.50,392.75 489.75,382.00" fill="none" stroke="#000" stroke-width="1" stroke-linejoin="round" />
<rect x="66" y="198" width="1.5" height="1.2" fill="#800000"/>
<polyline points="72.00,198.40 76.50,198.40 80.00,201.00 81.50,203.00 85.00,207.00 89.00,209.60 92.00,213.00 96.00,216.50 99.60,220.00 104.00,223.00 110.00,226.50 112.00,229.00 120.00,229.25 125.00,230.50 136.00,230.00 142.50,229.00 157.50,228.40 163.75,226.50 178.75,226.50 185.00,228.40 189.40,227.75 197.50,225.00 208.75,220.50 216.00,220.50 223.50,218.40 232.00,218.75 241.00,220.00 246.00,221.25 251.00,219.60 259.75,215.25 268.50,211.50 281.00,204.60 293.50,201.50 303.50,199.60 312.00,194.75 324.50,184.75 333.00,183.00 343.00,175.40 353.00,172.25 360.75,169.75 368.00,164.75 372.00,159.75 380.75,153.50 387.00,148.50 397.00,142.25 404.50,138.25 408.00,138.50 411.75,139.40 426.75,137.50 438.00,136.25 445.50,135.25 454.90,135.40 455.50,136.60 458.60,136.60 460.50,134.75 463.60,130.40 466.75,122.90 470.50,114.00 474.25,108.50 476.75,101.00 478.60,96.00 483.00,86.50 489.25,66.50" fill="none" stroke="#800000" stroke-width="1.1" stroke-linejoin="round" />
<polyline points="70.00,256.00 75.00,256.50 80.00,259.00 86.50,264.00 92.00,271.00 98.00,273.00 106.50,279.60 111.50,282.60 120.00,284.50 138.75,283.90 151.25,282.60 157.50,281.40 180.00,281.40 183.75,282.60 191.25,282.60 197.50,280.75 206.25,276.75 216.00,275.90 232.00,274.50 244.75,276.40 253.50,274.50 259.75,272.40 266.00,269.00 273.50,266.50 283.50,261.50 293.50,259.60 303.50,257.75 312.00,252.75 324.50,247.00 337.00,240.00 349.50,234.00 362.00,232.00 374.50,222.00 385.75,213.50 398.00,207.00 404.50,204.75 408.00,205.60 420.50,203.75 439.25,202.50 455.50,202.50 463.00,198.75 466.10,192.00 468.00,187.10 473.00,180.25 476.75,171.50 479.25,164.60 484.25,153.40 486.75,148.40 488.00,141.60 489.90,140.00" fill="none" stroke="#800000" stroke-width="1.1" stroke-linejoin="round" />
<polyline points="70.00,227.50 75.00,227.75 79.60,230.00 85.00,235.00 91.50,242.00 99.00,248.00 104.00,250.00 111.50,255.00 120.00,257.00 131.00,256.50 137.50,256.00 147.50,255.50 160.00,254.60 173.75,253.40 178.75,254.25 187.50,254.60 195.00,253.40 202.50,252.00 208.75,248.75 216.00,247.75 223.50,246.50 232.00,246.50 241.00,248.40 251.00,247.75 258.50,244.60 266.00,240.25 273.50,237.75 282.00,233.40 291.00,231.50 303.50,229.60 312.00,223.50 325.75,214.75 343.00,204.75 362.00,200.40 368.00,194.75 374.50,189.75 380.75,185.40 389.50,179.00 399.50,174.00 408.00,172.50 420.50,171.25 438.00,169.40 448.00,168.40 451.10,169.30 456.10,169.30 460.50,168.40 461.75,166.50 466.10,157.75 469.90,150.25 473.60,144.00 476.75,136.00 480.50,128.50 484.25,119.75 486.75,111.60 488.00,104.75 489.60,103.20" fill="none" stroke="#ff0000" stroke-width="1.2" stroke-linejoin="round" />
<polyline points="150.00,246.75 153.75,245.90 161.25,247.75 167.50,249.60 172.50,251.50 180.00,253.00 187.50,254.60 201.25,255.00 207.50,253.75 216.00,252.50 241.00,251.50 253.50,249.00 272.00,245.90 291.00,242.00 303.50,239.00 312.00,236.50 324.50,232.00 337.00,228.00 355.75,219.75 368.00,214.75 387.00,204.00 397.00,199.75 408.00,194.00 420.50,188.75 433.00,183.75 448.00,179.00 460.50,175.60 464.25,172.75 472.40,164.60 476.10,160.60 479.25,159.00 489.25,149.00" fill="none" stroke="#800080" stroke-width="2.7" stroke-linejoin="round" />
<path d="M36 229h1v6h-1z M34 229h2v1h-2z M37 231h2v1h-2z M38 229h1v6h-1z M36 229h2v1h-2z M39 231h2v1h-2z M40 229h1v6h-1z M38 233h2v1h-2z M41 229h2v1h-2z M43 222h1v7h-1z M41 225h2v1h-2z M44 224h2v1h-2z M45 223h1v6h-1z M43 224h2v1h-2z M46 223h2v1h-2z M47 223h1v6h-1z M45 223h2v1h-2z M48 225h2v1h-2z M49 222h1v6h-1z M47 222h2v1h-2z M50 222h2v1h-2z M51 220h1v7h-1z M49 221h2v1h-2z M52 223h2v1h-2z M54 221h1v6h-1z M52 224h2v1h-2z M55 222h2v1h-2z M56 221h1v6h-1z M54 224h2v1h-2z M57 222h2v1h-2z M58 220h1v6h-1z M56 223h2v1h-2z M59 220h2v1h-2z M60 221h1v6h-1z M58 224h2v1h-2z M61 223h2v1h-2z M62 221h1v6h-1z M60 223h2v1h-2z M63 223h2v1h-2z M65 226h1v8h-1z M63 229h2v1h-2z M66 230h2v1h-2z M67 227h1v7h-1z M65 232h2v1h-2z M68 231h2v1h-2z M69 227h1v6h-1z M67 227h2v1h-2z M70 229h2v1h-2z M71 229h1v6h-1z M69 229h2v1h-2z M72 232h2v1h-2z M73 231h1v6h-1z M71 232h2v1h-2z M74 235h2v1h-2z M76 233h1v6h-1z M74 237h2v1h-2z M77 237h2v1h-2z M78 245h1v9h-1z M76 247h2v1h-2z M79 252h2v1h-2z M80 248h1v14h-1z M78 251h2v1h-2z M81 251h2v1h-2z M82 248h1v17h-1z M80 248h2v1h-2z M83 254h2v1h-2z M84 255h1v12h-1z M82 262h2v1h-2z M85 260h2v1h-2z M87 252h1v14h-1z M85 263h2v1h-2z M88 262h2v1h-2z M89 253h1v14h-1z M87 258h2v1h-2z M90 254h2v1h-2z M91 252h1v10h-1z M89 253h2v1h-2z M92 253h2v1h-2z M93 250h1v8h-1z M91 251h2v1h-2z M94 250h2v1h-2z M95 255h1v7h-1z M93 258h2v1h-2z M96 255h2v1h-2z M98 248h1v10h-1z M96 249h2v1h-2z M99 255h2v1h-2z M100 250h1v10h-1z M98 250h2v1h-2z M101 250h2v1h-2z M102 252h1v8h-1z M100 253h2v1h-2z M103 252h2v1h-2z M104 249h1v10h-1z M102 253h2v1h-2z M105 249h2v1h-2z M106 249h1v12h-1z M104 256h2v1h-2z M107 251h2v1h-2z M109 252h1v7h-1z M107 255h2v1h-2z M110 256h2v1h-2z M111 250h1v8h-1z M109 255h2v1h-2z M112 256h2v1h-2z M113 250h1v13h-1z M111 258h2v1h-2z M114 252h2v1h-2z M115 249h1v10h-1z M113 249h2v1h-2z M116 251h2v1h-2z M117 251h1v12h-1z M115 255h2v1h-2z M118 261h2v1h-2z M120 249h1v14h-1z M118 251h2v1h-2z M121 251h2v1h-2z M122 257h1v8h-1z M120 263h2v1h-2z M123 262h2v1h-2z M124 256h1v10h-1z M122 256h2v1h-2z M125 261h2v1h-2z M126 256h1v10h-1z M124 260h2v1h-2z M127 257h2v1h-2z M128 254h1v9h-1z M126 260h2v1h-2z M129 261h2v1h-2z M131 252h1v9h-1z M129 257h2v1h-2z M132 253h2v1h-2z M133 253h1v8h-1z M131 258h2v1h-2z M134 254h2v1h-2z M135 249h1v12h-1z M133 252h2v1h-2z M136 255h2v1h-2z M137 254h1v7h-1z M135 257h2v1h-2z M138 257h2v1h-2z M139 247h1v8h-1z M137 252h2v1h-2z M140 248h2v1h-2z M142 246h1v7h-1z M140 249h2v1h-2z M143 247h2v1h-2z M144 248h1v7h-1z M142 250h2v1h-2z M145 250h2v1h-2z M146 245h1v10h-1z M144 253h2v1h-2z M147 249h2v1h-2z M148 245h1v8h-1z M146 248h2v1h-2z M149 246h2v1h-2z M150 245h1v9h-1z M148 248h2v1h-2z M151 250h2v1h-2z M153 252h1v9h-1z M151 256h2v1h-2z M154 258h2v1h-2z M155 251h1v10h-1z M153 253h2v1h-2z M156 257h2v1h-2z M157 252h1v10h-1z M155 260h2v1h-2z M158 255h2v1h-2z M159 251h1v10h-1z M157 257h2v1h-2z M160 255h2v1h-2z M161 253h1v9h-1z M159 258h2v1h-2z M162 260h2v1h-2z M164 252h1v9h-1z M162 259h2v1h-2z M165 258h2v1h-2z M166 256h1v6h-1z M164 256h2v1h-2z M167 257h2v1h-2z M168 255h1v9h-1z M166 262h2v1h-2z M169 256h2v1h-2z M170 254h1v9h-1z M168 261h2v1h-2z M171 261h2v1h-2z M172 254h1v10h-1z M170 258h2v1h-2z M173 262h2v1h-2z M175 253h1v6h-1z M173 255h2v1h-2z M176 254h2v1h-2z M177 254h1v6h-1z M175 257h2v1h-2z M178 254h2v1h-2z M179 255h1v6h-1z M177 255h2v1h-2z M180 256h2v1h-2z M181 256h1v7h-1z M179 261h2v1h-2z M182 260h2v1h-2z M183 257h1v6h-1z M181 257h2v1h-2z M184 260h2v1h-2z M186 257h1v6h-1z M184 261h2v1h-2z M187 261h2v1h-2z M188 258h1v6h-1z M186 260h2v1h-2z M189 261h2v1h-2z M190 246h1v6h-1z M188 248h2v1h-2z M191 246h2v1h-2z M192 246h1v7h-1z M190 246h2v1h-2z M193 251h2v1h-2z M194 245h1v8h-1z M192 247h2v1h-2z M195 248h2v1h-2z M197 245h1v6h-1z M195 247h2v1h-2z M198 246h2v1h-2z M199 245h1v6h-1z M197 246h2v1h-2z M200 246h2v1h-2z M201 243h1v7h-1z M199 246h2v1h-2z M202 244h2v1h-2z M203 243h1v6h-1z M201 243h2v1h-2z M204 246h2v1h-2z M205 243h1v6h-1z M203 247h2v1h-2z M206 243h2v1h-2z M208 240h1v8h-1z M206 245h2v1h-2z M209 242h2v1h-2z M210 240h1v9h-1z M208 242h2v1h-2z M211 246h2v1h-2z M212 240h1v8h-1z M210 242h2v1h-2z M213 240h2v1h-2z M214 242h1v6h-1z M212 243h2v1h-2z M215 242h2v1h-2z M216 240h1v9h-1z M214 245h2v1h-2z M217 242h2v1h-2z M219 247h1v10h-1z M217 248h2v1h-2z M220 251h2v1h-2z M221 245h1v14h-1z M219 252h2v1h-2z M222 248h2v1h-2z M223 246h1v10h-1z M221 246h2v1h-2z M224 249h2v1h-2z M225 246h1v11h-1z M223 251h2v1h-2z M226 246h2v1h-2z M227 246h1v6h-1z M225 246h2v1h-2z M228 246h2v1h-2z M230 246h1v6h-1z M228 248h2v1h-2z M231 249h2v1h-2z M232 249h1v10h-1z M230 252h2v1h-2z M233 251h2v1h-2z M234 251h1v7h-1z M232 254h2v1h-2z M235 251h2v1h-2z M236 248h1v11h-1z M234 255h2v1h-2z M237 256h2v1h-2z M238 249h1v9h-1z M236 255h2v1h-2z M239 255h2v1h-2z M241 242h1v8h-1z M239 246h2v1h-2z M242 246h2v1h-2z M243 241h1v6h-1z M241 242h2v1h-2z M244 241h2v1h-2z M245 241h1v8h-1z M243 245h2v1h-2z M246 245h2v1h-2z M247 239h1v6h-1z M245 242h2v1h-2z M248 241h2v1h-2z M249 235h1v10h-1z M247 241h2v1h-2z M250 237h2v1h-2z M252 237h1v8h-1z M250 238h2v1h-2z M253 242h2v1h-2z M254 232h1v9h-1z M252 235h2v1h-2z M255 237h2v1h-2z M256 228h1v9h-1z M254 228h2v1h-2z M257 229h2v1h-2z M258 232h1v10h-1z M256 237h2v1h-2z M259 232h2v1h-2z M260 229h1v7h-1z M258 233h2v1h-2z M261 233h2v1h-2z M263 232h1v8h-1z M261 235h2v1h-2z M264 232h2v1h-2z M265 234h1v7h-1z M263 239h2v1h-2z M266 234h2v1h-2z M267 232h1v9h-1z M265 235h2v1h-2z M268 234h2v1h-2z M269 228h1v16h-1z M267 236h2v1h-2z M270 230h2v1h-2z M271 228h1v16h-1z M269 240h2v1h-2z M272 235h2v1h-2z M274 227h1v7h-1z M272 232h2v1h-2z M275 229h2v1h-2z M276 228h1v6h-1z M274 230h2v1h-2z M277 229h2v1h-2z M278 228h1v6h-1z M276 232h2v1h-2z M279 228h2v1h-2z M280 227h1v8h-1z M278 233h2v1h-2z M281 231h2v1h-2z M282 229h1v11h-1z M280 232h2v1h-2z M283 232h2v1h-2z M285 231h1v11h-1z M283 235h2v1h-2z M286 233h2v1h-2z M287 234h1v9h-1z M285 236h2v1h-2z M288 241h2v1h-2z M289 232h1v10h-1z M287 233h2v1h-2z M290 235h2v1h-2z M291 220h1v15h-1z M289 228h2v1h-2z M292 232h2v1h-2z M293 221h1v13h-1z M291 221h2v1h-2z M294 229h2v1h-2z M296 220h1v14h-1z M294 223h2v1h-2z M297 220h2v1h-2z M298 218h1v14h-1z M296 224h2v1h-2z M299 222h2v1h-2z M300 218h1v12h-1z M298 220h2v1h-2z M301 225h2v1h-2z M302 218h1v11h-1z M300 219h2v1h-2z M303 219h2v1h-2z M304 217h1v13h-1z M302 219h2v1h-2z M305 227h2v1h-2z M307 206h1v12h-1z M305 208h2v1h-2z M308 206h2v1h-2z M309 206h1v10h-1z M307 208h2v1h-2z M310 211h2v1h-2z M311 206h1v14h-1z M309 211h2v1h-2z M312 212h2v1h-2z M313 195h1v11h-1z M311 197h2v1h-2z M314 204h2v1h-2z M315 197h1v11h-1z M313 205h2v1h-2z M316 199h2v1h-2z M318 197h1v10h-1z M316 201h2v1h-2z M319 205h2v1h-2z M320 195h1v14h-1z M318 195h2v1h-2z M321 204h2v1h-2z M322 197h1v11h-1z M320 197h2v1h-2z M323 200h2v1h-2z M324 204h1v12h-1z M322 213h2v1h-2z M325 214h2v1h-2z M326 211h1v6h-1z M324 213h2v1h-2z M327 214h2v1h-2z M329 211h1v8h-1z M327 216h2v1h-2z M330 214h2v1h-2z M331 213h1v6h-1z M329 214h2v1h-2z M332 217h2v1h-2z M333 204h1v6h-1z M331 205h2v1h-2z M334 207h2v1h-2z M335 204h1v6h-1z M333 206h2v1h-2z M336 206h2v1h-2z M337 204h1v6h-1z M335 204h2v1h-2z M338 205h2v1h-2z M340 194h1v8h-1z M338 200h2v1h-2z M341 197h2v1h-2z M342 197h1v8h-1z M340 201h2v1h-2z M343 199h2v1h-2z M344 196h1v8h-1z M342 198h2v1h-2z M345 197h2v1h-2z M346 194h1v11h-1z M344 194h2v1h-2z M347 197h2v1h-2z M348 194h1v10h-1z M346 201h2v1h-2z M349 200h2v1h-2z M351 193h1v6h-1z M349 194h2v1h-2z M352 197h2v1h-2z M353 192h1v7h-1z M351 193h2v1h-2z M354 197h2v1h-2z M355 191h1v6h-1z M353 193h2v1h-2z M356 194h2v1h-2z M357 187h1v6h-1z M355 188h2v1h-2z M358 191h2v1h-2z M359 187h1v6h-1z M357 188h2v1h-2z M360 191h2v1h-2z M362 187h1v6h-1z M360 191h2v1h-2z M363 188h2v1h-2z M364 187h1v6h-1z M362 187h2v1h-2z M365 190h2v1h-2z M366 187h1v6h-1z M364 187h2v1h-2z M367 187h2v1h-2z M368 181h1v6h-1z M366 181h2v1h-2z M369 185h2v1h-2z M370 180h1v7h-1z M368 184h2v1h-2z M371 182h2v1h-2z M373 171h1v9h-1z M371 178h2v1h-2z M374 172h2v1h-2z M375 170h1v11h-1z M373 174h2v1h-2z M376 178h2v1h-2z M377 170h1v7h-1z M375 170h2v1h-2z M378 175h2v1h-2z M379 171h1v10h-1z M377 174h2v1h-2z M380 173h2v1h-2z M381 166h1v10h-1z M379 172h2v1h-2z M382 168h2v1h-2z M384 169h1v7h-1z M382 174h2v1h-2z M385 172h2v1h-2z M386 167h1v7h-1z M384 169h2v1h-2z M387 172h2v1h-2z M388 167h1v8h-1z M386 170h2v1h-2z M389 170h2v1h-2z M390 169h1v7h-1z M388 173h2v1h-2z M391 173h2v1h-2z M392 169h1v8h-1z M390 171h2v1h-2z M393 171h2v1h-2z M395 169h1v6h-1z M393 172h2v1h-2z M396 170h2v1h-2z M397 170h1v6h-1z M395 171h2v1h-2z M398 174h2v1h-2z M399 164h1v14h-1z M397 165h2v1h-2z M400 165h2v1h-2z M401 165h1v12h-1z M399 167h2v1h-2z M402 169h2v1h-2z M403 165h1v13h-1z M401 175h2v1h-2z M404 172h2v1h-2z M406 167h1v9h-1z M404 171h2v1h-2z M407 169h2v1h-2z M408 169h1v8h-1z M406 170h2v1h-2z M409 170h2v1h-2z M410 169h1v9h-1z M408 172h2v1h-2z M411 176h2v1h-2z M412 167h1v6h-1z M410 170h2v1h-2z M413 171h2v1h-2z M414 166h1v7h-1z M412 171h2v1h-2z M415 171h2v1h-2z M417 165h1v6h-1z M415 165h2v1h-2z M418 169h2v1h-2z M419 164h1v9h-1z M417 170h2v1h-2z M420 167h2v1h-2z M421 165h1v8h-1z M419 165h2v1h-2z M422 169h2v1h-2z M423 165h1v7h-1z M421 165h2v1h-2z M424 166h2v1h-2z M425 165h1v8h-1z M423 166h2v1h-2z M426 165h2v1h-2z M428 165h1v8h-1z M426 167h2v1h-2z M429 166h2v1h-2z M430 165h1v6h-1z M428 165h2v1h-2z M431 166h2v1h-2z M432 165h1v6h-1z M430 165h2v1h-2z M433 168h2v1h-2z M434 165h1v6h-1z M432 169h2v1h-2z M435 166h2v1h-2z M436 161h1v8h-1z M434 167h2v1h-2z M437 167h2v1h-2z M439 162h1v7h-1z M437 163h2v1h-2z M440 162h2v1h-2z M441 164h1v11h-1z M439 168h2v1h-2z M442 172h2v1h-2z M443 161h1v10h-1z M441 165h2v1h-2z M444 166h2v1h-2z M445 165h1v9h-1z M443 167h2v1h-2z M446 169h2v1h-2z M447 167h1v7h-1z M445 170h2v1h-2z M448 172h2v1h-2z M450 171h1v7h-1z M448 176h2v1h-2z M451 172h2v1h-2z M452 170h1v8h-1z M450 173h2v1h-2z M453 170h2v1h-2z M454 172h1v6h-1z M452 175h2v1h-2z M455 176h2v1h-2z M456 170h1v8h-1z M454 172h2v1h-2z M457 175h2v1h-2z M76 233h1v17h-1z M74 241h2v1h-2z M77 239h2v1h-2z M111 243h1v18h-1z M109 245h2v1h-2z M112 247h2v1h-2z M128 255h1v18h-1z M126 267h2v1h-2z M129 270h2v1h-2z M176 246h1v7h-1z M174 246h2v1h-2z M177 249h2v1h-2z M178 250h1v9h-1z M176 256h2v1h-2z M179 250h2v1h-2z M206 235h1v8h-1z M204 240h2v1h-2z M207 235h2v1h-2z M323 190h1v17h-1z M321 200h2v1h-2z M324 191h2v1h-2z M325 212h1v21h-1z M323 226h2v1h-2z M326 227h2v1h-2z M444 161h1v25h-1z M442 173h2v1h-2z M445 170h2v1h-2z M456 167h1v12h-1z M454 177h2v1h-2z M457 168h2v1h-2z M458 155h1v22h-1z M456 172h2v1h-2z M459 175h2v1h-2z M471 88h1v10h-1z M469 94h2v1h-2z M472 89h2v1h-2z M474 89h1v9h-1z M472 96h2v1h-2z M475 91h2v1h-2z M476 85h1v10h-1z M474 92h2v1h-2z M477 86h2v1h-2z M477 79h1v16h-1z M475 86h2v1h-2z M478 92h2v1h-2z M478 70h1v8h-1z M476 71h2v1h-2z M479 71h2v1h-2z M480 76h1v8h-1z M478 79h2v1h-2z M481 78h2v1h-2z M482 63h1v22h-1z M480 63h2v1h-2z M483 66h2v1h-2z M484 61h1v12h-1z M482 62h2v1h-2z M485 71h2v1h-2z M486 54h1v14h-1z M484 62h2v1h-2z M487 65h2v1h-2z M487 57h1v11h-1z M485 58h2v1h-2z M488 64h2v1h-2z" fill="#000" shape-rendering="crispEdges"/>
<path d="M34 235h1v17h-1z M32 248h2v1h-2z M35 237h2v1h-2z M72 232h1v9h-1z M70 233h2v1h-2z M73 235h2v1h-2z M273 232h1v14h-1z M271 239h2v1h-2z M274 239h2v1h-2z M281 214h1v12h-1z M279 220h2v1h-2z M282 217h2v1h-2z M282 232h1v7h-1z M280 234h2v1h-2z M283 235h2v1h-2z M286 231h1v7h-1z M284 231h2v1h-2z M287 234h2v1h-2z M292 219h1v10h-1z M290 225h2v1h-2z M293 226h2v1h-2z M296 219h1v9h-1z M294 222h2v1h-2z M297 219h2v1h-2z M299 220h1v9h-1z M297 220h2v1h-2z M300 223h2v1h-2z M308 206h1v13h-1z M306 212h2v1h-2z M309 206h2v1h-2z M389 166h1v30h-1z M387 180h2v1h-2z M390 167h2v1h-2z M460 129h1v32h-1z M458 151h2v1h-2z M461 154h2v1h-2z M462 116h1v27h-1z M460 121h2v1h-2z M463 141h2v1h-2z M464 102h1v26h-1z M462 114h2v1h-2z M465 125h2v1h-2z M466 87h1v45h-1z M464 127h2v1h-2z M467 94h2v1h-2z M468 75h1v26h-1z M466 94h2v1h-2z M469 98h2v1h-2z M470 81h1v35h-1z M468 83h2v1h-2z M471 92h2v1h-2z M489 52h1v24h-1z M487 54h2v1h-2z M490 64h2v1h-2z" fill="#ff0000" shape-rendering="crispEdges"/>
<path d="M70 304h1v1h-1zM73 304h1v1h-1zM76 305h1v1h-1zM79 306h1v1h-1zM81 306h1v1h-1zM84 307h1v1h-1zM87 308h1v1h-1zM90 309h1v1h-1zM93 310h1v1h-1zM96 311h1v1h-1zM98 312h1v1h-1zM101 313h1v1h-1zM104 314h1v1h-1zM107 315h1v1h-1zM110 315h1v1h-1zM113 315h1v1h-1zM116 316h1v1h-1zM119 316h1v1h-1zM122 316h1v1h-1zM125 316h1v1h-1zM128 315h1v1h-1zM131 315h1v1h-1zM134 315h1v1h-1zM137 315h1v1h-1zM140 314h1v1h-1zM143 314h1v1h-1zM146 314h1v1h-1zM149 314h1v1h-1zM152 313h1v1h-1zM155 313h1v1h-1zM158 313h1v1h-1zM161 312h1v1h-1zM164 312h1v1h-1zM167 312h1v1h-1zM170 312h1v1h-1zM173 311h1v1h-1zM176 311h1v1h-1zM179 311h1v1h-1zM182 311h1v1h-1zM185 310h1v1h-1zM188 310h1v1h-1zM191 310h1v1h-1zM194 309h1v1h-1zM197 309h1v1h-1zM200 309h1v1h-1zM203 308h1v1h-1zM206 308h1v1h-1zM209 308h1v1h-1zM212 307h1v1h-1zM215 307h1v1h-1zM218 307h1v1h-1zM221 307h1v1h-1zM224 307h1v1h-1zM227 306h1v1h-1zM230 306h1v1h-1zM233 306h1v1h-1zM236 306h1v1h-1zM239 305h1v1h-1zM241 305h1v1h-1zM244 304h1v1h-1zM247 304h1v1h-1zM250 303h1v1h-1zM253 303h1v1h-1zM256 302h1v1h-1zM259 301h1v1h-1zM262 300h1v1h-1zM265 300h1v1h-1zM268 299h1v1h-1zM271 298h1v1h-1zM274 297h1v1h-1zM276 296h1v1h-1zM279 295h1v1h-1zM282 294h1v1h-1zM285 293h1v1h-1zM288 292h1v1h-1zM291 291h1v1h-1zM294 291h1v1h-1zM297 291h1v1h-1zM299 290h1v1h-1zM302 290h1v1h-1zM305 289h1v1h-1zM308 289h1v1h-1zM311 289h1v1h-1zM314 288h1v1h-1zM317 287h1v1h-1zM320 286h1v1h-1zM323 285h1v1h-1zM326 284h1v1h-1zM328 283h1v1h-1zM331 281h1v1h-1zM334 280h1v1h-1zM336 279h1v1h-1zM339 278h1v1h-1zM342 277h1v1h-1zM345 276h1v1h-1zM348 275h1v1h-1zM351 274h1v1h-1zM354 273h1v1h-1zM356 273h1v1h-1zM359 272h1v1h-1zM362 271h1v1h-1zM365 271h1v1h-1zM368 270h1v1h-1zM371 270h1v1h-1zM374 269h1v1h-1zM377 268h1v1h-1zM380 268h1v1h-1zM383 267h1v1h-1zM386 266h1v1h-1zM389 266h1v1h-1zM392 266h1v1h-1zM395 266h1v1h-1zM398 266h1v1h-1zM401 266h1v1h-1zM404 266h1v1h-1zM407 266h1v1h-1zM410 266h1v1h-1zM413 266h1v1h-1zM416 266h1v1h-1zM419 267h1v1h-1zM422 267h1v1h-1zM425 267h1v1h-1zM428 268h1v1h-1zM431 268h1v1h-1zM434 268h1v1h-1zM437 268h1v1h-1zM440 268h1v1h-1zM443 268h1v1h-1zM446 268h1v1h-1zM449 268h1v1h-1zM452 267h1v1h-1zM455 267h1v1h-1zM458 267h1v1h-1zM460 266h1v1h-1zM463 265h1v1h-1zM465 263h1v1h-1zM468 261h1v1h-1zM470 259h1v1h-1zM472 257h1v1h-1zM474 255h1v1h-1zM476 253h1v1h-1zM478 250h1v1h-1zM480 248h1v1h-1zM483 246h1v1h-1zM485 244h1v1h-1zM487 242h1v1h-1z" fill="#ff0000"/>
<path d="M81 330h1v1h-1zM83 330h1v1h-1zM86 330h1v1h-1zM88 331h1v1h-1zM91 331h1v1h-1zM93 331h1v1h-1zM96 332h1v1h-1zM98 333h1v1h-1zM101 333h1v1h-1zM103 334h1v1h-1zM106 334h1v1h-1zM108 334h1v1h-1zM111 334h1v1h-1zM113 335h1v1h-1zM116 335h1v1h-1zM118 335h1v1h-1zM121 335h1v1h-1zM123 335h1v1h-1zM125 335h1v1h-1zM128 335h1v1h-1zM130 335h1v1h-1zM133 334h1v1h-1zM135 334h1v1h-1zM138 334h1v1h-1zM140 334h1v1h-1zM143 334h1v1h-1zM145 334h1v1h-1zM148 334h1v1h-1zM150 334h1v1h-1zM153 334h1v1h-1zM155 334h1v1h-1zM158 334h1v1h-1zM160 334h1v1h-1zM163 334h1v1h-1zM165 333h1v1h-1zM168 333h1v1h-1zM170 333h1v1h-1zM173 333h1v1h-1zM175 333h1v1h-1zM178 333h1v1h-1zM180 332h1v1h-1zM183 332h1v1h-1zM185 332h1v1h-1zM188 332h1v1h-1zM190 331h1v1h-1zM193 331h1v1h-1zM195 331h1v1h-1zM198 331h1v1h-1zM200 331h1v1h-1zM203 330h1v1h-1zM205 330h1v1h-1zM208 330h1v1h-1zM210 330h1v1h-1zM213 330h1v1h-1zM215 330h1v1h-1zM218 330h1v1h-1zM220 330h1v1h-1zM223 330h1v1h-1zM225 330h1v1h-1zM228 330h1v1h-1zM230 330h1v1h-1zM233 330h1v1h-1zM235 330h1v1h-1zM238 330h1v1h-1zM240 330h1v1h-1zM243 330h1v1h-1zM245 330h1v1h-1zM248 329h1v1h-1zM250 329h1v1h-1zM253 329h1v1h-1zM255 329h1v1h-1zM258 329h1v1h-1zM260 328h1v1h-1zM263 328h1v1h-1zM265 328h1v1h-1zM268 328h1v1h-1zM270 327h1v1h-1zM273 327h1v1h-1zM275 327h1v1h-1zM278 327h1v1h-1zM280 326h1v1h-1zM283 326h1v1h-1zM285 326h1v1h-1zM288 326h1v1h-1zM290 326h1v1h-1zM293 325h1v1h-1zM295 325h1v1h-1zM298 325h1v1h-1zM300 325h1v1h-1zM303 325h1v1h-1zM305 325h1v1h-1zM308 325h1v1h-1zM310 325h1v1h-1zM313 324h1v1h-1zM315 324h1v1h-1zM317 323h1v1h-1zM320 323h1v1h-1zM322 322h1v1h-1zM325 322h1v1h-1zM327 321h1v1h-1zM330 321h1v1h-1zM332 320h1v1h-1zM335 320h1v1h-1zM337 319h1v1h-1zM339 319h1v1h-1zM342 318h1v1h-1zM344 317h1v1h-1zM347 316h1v1h-1zM349 315h1v1h-1zM351 314h1v1h-1zM354 314h1v1h-1zM356 313h1v1h-1zM358 312h1v1h-1zM361 311h1v1h-1zM363 311h1v1h-1zM366 310h1v1h-1zM368 310h1v1h-1zM370 309h1v1h-1zM373 309h1v1h-1zM375 308h1v1h-1zM378 308h1v1h-1zM380 307h1v1h-1zM383 307h1v1h-1zM385 307h1v1h-1zM388 307h1v1h-1zM390 307h1v1h-1zM393 307h1v1h-1zM395 307h1v1h-1zM398 306h1v1h-1zM400 306h1v1h-1zM403 306h1v1h-1zM405 306h1v1h-1zM408 306h1v1h-1zM410 306h1v1h-1zM413 306h1v1h-1zM415 306h1v1h-1zM418 306h1v1h-1zM420 306h1v1h-1zM423 306h1v1h-1zM425 306h1v1h-1zM428 306h1v1h-1zM430 306h1v1h-1zM433 306h1v1h-1zM435 306h1v1h-1zM438 305h1v1h-1zM440 305h1v1h-1zM443 305h1v1h-1zM445 304h1v1h-1zM448 304h1v1h-1zM450 304h1v1h-1zM453 303h1v1h-1zM455 303h1v1h-1zM457 303h1v1h-1zM460 302h1v1h-1zM462 302h1v1h-1zM465 301h1v1h-1zM467 301h1v1h-1zM470 300h1v1h-1zM472 299h1v1h-1zM475 299h1v1h-1zM477 298h1v1h-1zM479 297h1v1h-1zM482 297h1v1h-1zM484 296h1v1h-1zM487 296h1v1h-1z" fill="#000"/>
<path d="M120 363h1v1h-1zM122 363h1v1h-1zM125 364h1v1h-1zM128 364h1v1h-1zM131 365h1v1h-1zM134 365h1v1h-1zM137 366h1v1h-1zM140 366h1v1h-1zM143 367h1v1h-1zM146 368h1v1h-1zM149 369h1v1h-1zM151 370h1v1h-1zM154 371h1v1h-1zM157 372h1v1h-1zM160 373h1v1h-1zM163 374h1v1h-1zM165 376h1v1h-1zM168 377h1v1h-1zM171 377h1v1h-1zM174 378h1v1h-1zM177 378h1v1h-1zM180 379h1v1h-1zM183 380h1v1h-1zM186 380h1v1h-1zM189 380h1v1h-1zM192 380h1v1h-1zM195 380h1v1h-1zM198 380h1v1h-1zM201 380h1v1h-1zM204 379h1v1h-1zM207 379h1v1h-1zM210 379h1v1h-1zM213 379h1v1h-1zM216 379h1v1h-1zM219 379h1v1h-1zM222 378h1v1h-1zM225 378h1v1h-1zM228 378h1v1h-1zM231 378h1v1h-1zM234 378h1v1h-1zM237 378h1v1h-1zM240 377h1v1h-1zM243 377h1v1h-1zM246 377h1v1h-1zM249 377h1v1h-1zM252 377h1v1h-1zM255 376h1v1h-1zM258 376h1v1h-1zM261 376h1v1h-1zM264 376h1v1h-1zM267 375h1v1h-1zM270 374h1v1h-1zM272 374h1v1h-1zM275 373h1v1h-1zM278 372h1v1h-1zM281 371h1v1h-1zM284 371h1v1h-1zM287 370h1v1h-1zM290 369h1v1h-1zM293 369h1v1h-1zM296 369h1v1h-1zM299 368h1v1h-1zM302 368h1v1h-1zM305 368h1v1h-1zM308 367h1v1h-1zM311 367h1v1h-1zM314 367h1v1h-1zM317 367h1v1h-1zM320 367h1v1h-1zM323 367h1v1h-1zM326 367h1v1h-1zM329 367h1v1h-1zM332 367h1v1h-1zM335 367h1v1h-1zM338 366h1v1h-1zM341 366h1v1h-1zM344 365h1v1h-1zM347 364h1v1h-1zM350 364h1v1h-1zM352 363h1v1h-1zM355 363h1v1h-1zM358 362h1v1h-1zM361 361h1v1h-1zM364 360h1v1h-1zM367 359h1v1h-1zM369 358h1v1h-1zM372 356h1v1h-1zM375 355h1v1h-1zM378 354h1v1h-1zM380 352h1v1h-1zM383 351h1v1h-1zM386 350h1v1h-1zM389 349h1v1h-1zM391 348h1v1h-1zM394 347h1v1h-1zM397 346h1v1h-1zM400 345h1v1h-1zM403 344h1v1h-1zM406 343h1v1h-1zM409 343h1v1h-1zM412 343h1v1h-1zM415 342h1v1h-1zM418 342h1v1h-1zM421 342h1v1h-1zM424 341h1v1h-1zM427 341h1v1h-1zM429 341h1v1h-1zM432 340h1v1h-1zM435 340h1v1h-1zM438 340h1v1h-1zM441 340h1v1h-1zM444 340h1v1h-1zM447 340h1v1h-1zM450 340h1v1h-1zM453 340h1v1h-1zM456 340h1v1h-1zM459 339h1v1h-1zM462 338h1v1h-1zM465 336h1v1h-1zM467 335h1v1h-1zM470 334h1v1h-1zM472 332h1v1h-1zM474 330h1v1h-1zM476 327h1v1h-1zM479 325h1v1h-1zM481 323h1v1h-1zM483 321h1v1h-1zM485 319h1v1h-1zM487 317h1v1h-1z" fill="#ff0000"/>
<polyline points="34.00,307.00 36.50,304.50 42.75,302.00 50.25,303.25 60.25,303.90 64.00,305.75 69.00,303.90 74.00,306.40 79.00,314.50 84.00,318.25 92.75,319.50 96.50,313.90 101.50,315.75 106.50,315.00 110.25,312.60 114.00,313.90 120.00,318.25 125.00,319.25 130.00,317.00 136.25,313.25 141.25,309.75 150.00,309.75 155.00,312.60 157.50,309.75 162.50,309.75 166.25,312.60 170.00,312.00 176.25,309.75 181.25,312.00 186.25,312.60 188.75,308.90 195.00,306.75 201.25,306.75 205.00,303.90 210.00,305.75 216.00,305.75 223.50,303.90 228.50,305.00 234.75,308.25 241.00,304.50 248.50,299.50 253.50,297.00 258.50,293.50 263.50,294.75 268.50,294.25 273.50,295.50 278.50,292.60 283.50,290.75 288.50,290.75 291.00,287.00 298.50,287.60 306.00,285.75 312.00,282.75 317.00,279.00 324.50,281.00 329.50,277.00 335.75,272.00 342.00,274.60 348.25,273.00 355.75,270.00 362.00,269.25 365.75,270.00 368.25,267.00 374.50,264.00 378.25,262.75 387.00,264.00 389.50,267.75 394.50,266.50 398.25,264.60 400.75,267.75 408.00,270.50 411.75,271.00 416.75,270.00 418.00,267.75 433.00,267.75 438.00,264.90 440.50,266.75 445.50,265.75 449.25,267.75 453.00,267.75 456.00,271.00 458.00,265.50 461.75,254.25 464.90,244.25 466.10,238.00 470.50,233.00 475.50,228.60 479.25,226.75 483.00,226.75 486.75,223.60 489.25,222.75" fill="none" stroke="#0000ff" stroke-width="2.1" stroke-linejoin="round" />
<polyline points="33.10,333.00 39.00,330.75 43.75,327.25 51.50,327.60 61.50,328.90 70.25,330.75 76.50,330.75 82.75,335.10 89.00,337.00 96.50,335.75 104.00,335.10 111.50,335.10 120.00,336.40 125.00,337.60 130.00,335.10 141.25,333.25 153.75,333.90 160.00,333.00 167.50,334.50 172.50,332.00 176.25,329.75 195.00,329.75 205.00,328.90 210.00,331.75 216.00,331.40 219.75,332.00 241.00,330.75 248.50,328.25 257.25,327.00 268.50,326.40 274.75,327.00 281.00,326.00 284.75,327.60 288.50,326.40 292.25,322.00 296.00,324.50 301.00,324.75 303.50,327.60 308.50,319.25 312.00,319.00 324.50,317.75 337.00,312.00 349.50,309.60 362.00,308.00 374.50,305.25 377.00,303.40 387.00,304.60 389.50,309.00 399.50,309.00 408.00,308.00 416.75,304.90 435.50,304.25 451.75,304.25 458.00,303.00 461.75,297.40 466.10,292.40 469.25,295.50 473.00,296.75 476.75,294.00 481.75,293.60 485.50,290.25 489.25,290.00" fill="none" stroke="#ff00ff" stroke-width="2.0" stroke-linejoin="round" />
<polyline points="33.40,370.70 37.10,366.00 41.80,363.60 46.50,359.00 51.20,361.80 55.90,361.80 59.60,360.80 64.30,360.40 69.90,353.30 74.60,354.30 77.40,360.40 79.30,368.30 80.20,361.30 83.00,359.00 85.90,362.70 91.50,363.20 96.20,360.80 101.80,363.60 106.50,358.50 112.10,356.60 114.90,359.40 117.70,367.90 120.00,369.75 123.00,371.25 129.25,372.50 130.50,368.75 139.25,368.00 144.00,371.60 150.25,376.00 155.25,379.75 160.25,378.50 166.50,382.25 171.50,382.25 176.50,378.50 181.50,384.00 186.50,379.75 194.00,379.75 199.00,379.10 205.25,376.00 209.00,377.90 219.00,378.50 221.50,380.40 229.00,379.10 234.00,379.75 240.00,377.25 246.25,376.60 255.00,371.00 262.50,372.90 267.50,371.00 275.00,369.75 281.25,366.00 290.00,365.40 295.00,368.50 302.50,373.50 308.75,366.60 316.25,362.25 322.50,362.90 325.00,370.40 330.00,365.40 336.00,361.60 341.00,363.50 351.00,362.90 354.75,358.50 364.75,354.75 367.90,347.25 376.00,346.00 382.25,341.60 387.25,341.00 389.10,346.60 391.00,343.50 397.25,342.25 402.25,344.10 408.00,345.50 415.50,341.75 420.50,339.90 424.25,342.40 428.00,339.90 433.00,340.50 438.00,338.60 440.50,343.00 445.50,339.00 450.50,341.10 453.00,340.50 456.10,348.00 460.50,331.75 466.10,310.50 469.25,311.75 474.25,310.50 478.00,306.75 481.75,306.75 486.75,299.90 489.25,298.00" fill="none" stroke="#000" stroke-width="2.1" stroke-linejoin="round" />
<circle cx="487.5" cy="298.5" r="2.5" fill="#000"/>
<rect x="124.1" y="230" width="3" height="5.599999999999994" fill="#ff0000"/>
<polygon points="121.6,234.6 129.6,234.6 125.6,239.6" fill="#ff0000"/>
<rect x="142.9" y="227" width="3" height="5.5" fill="#ff0000"/>
<polygon points="140.4,231.5 148.4,231.5 144.4,236.5" fill="#ff0000"/>
<rect x="162.9" y="231" width="3" height="5" fill="#ff0000"/>
<polygon points="160.4,235 168.4,235 164.4,240" fill="#ff0000"/>
<rect x="126.0" y="283.5" width="3" height="7.25" fill="#ff0000"/>
<polygon points="123.5,284.5 131.5,284.5 127.5,279.5" fill="#ff0000"/>
<rect x="159.0" y="276" width="3" height="6.600000000000023" fill="#ff0000"/>
<polygon points="156.5,277 164.5,277 160.5,272" fill="#ff0000"/>
<rect x="166.0" y="276" width="3" height="6.600000000000023" fill="#ff0000"/>
<polygon points="163.5,277 171.5,277 167.5,272" fill="#ff0000"/>
<line x1="187.5" y1="301.4" x2="187.5" y2="314.5" stroke="#000" stroke-width="1"/>
<polyline points="183,306.5 187.5,301.5 192,306.5" fill="none" stroke="#000" stroke-width="1"/>
<line x1="204.5" y1="297.6" x2="204.5" y2="309.5" stroke="#ff0000" stroke-width="1"/>
<polyline points="200,302.5 204.5,297.5 209,302.5" fill="none" stroke="#ff0000" stroke-width="1"/>
<line x1="235.5" y1="295" x2="235.5" y2="308.25" stroke="#000" stroke-width="1"/>
<polyline points="231,300.5 235.5,295.5 240,300.5" fill="none" stroke="#000" stroke-width="1"/>
<line x1="257.5" y1="289.5" x2="257.5" y2="304" stroke="#ff0000" stroke-width="1"/>
<polyline points="253,294.5 257.5,289.5 262,294.5" fill="none" stroke="#ff0000" stroke-width="1"/>
<line x1="281.5" y1="283.25" x2="281.5" y2="297.6" stroke="#ff0000" stroke-width="1"/>
<polyline points="277,288.5 281.5,283.5 286,288.5" fill="none" stroke="#ff0000" stroke-width="1"/>
<line x1="308.5" y1="277" x2="308.5" y2="291.4" stroke="#ff0000" stroke-width="1"/>
<polyline points="304,282.5 308.5,277.5 313,282.5" fill="none" stroke="#ff0000" stroke-width="1"/>
<line x1="367.5" y1="238.4" x2="367.5" y2="252.75" stroke="#ff0000" stroke-width="1"/>
<polyline points="363,243.5 367.5,238.5 372,243.5" fill="none" stroke="#ff0000" stroke-width="1"/>
<line x1="458.25" y1="222.5" x2="458.25" y2="236" stroke="#ff0000" stroke-width="1"/>
<line x1="460.25" y1="222.5" x2="460.25" y2="236" stroke="#ff0000" stroke-width="1"/>
<polyline points="455,225.5 459.5,220.5 464,225.5" fill="none" stroke="#ff0000" stroke-width="1"/>
</svg>
<div id="tx">
<div class="t" style="left:6.00px;top:1.00px;letter-spacing:0.016px">(Red arrows)#1 Indicator=50-day IPA ma turns. Its gain= 50.7% Buy</div>
<div class="t" style="left:2.50px;top:17.00px;letter-spacing:-0.567px">UVSP</div>
<div class="t" style="left:45.30px;top:17.00px;letter-spacing:-0.100px">Univest Corp Pennsylvania</div>
<div class="t" style="left:204.70px;top:17.00px;letter-spacing:0.021px">(C)2016 www.tigersoft.com</div>
<div class="t" style="left:374.40px;top:17.00px;letter-spacing:-0.480px">Close=</div>
<div class="t" style="left:421.90px;top:17.00px;letter-spacing:0.525px">29.15</div>
<div class="t" style="left:462.50px;top:17.00px;letter-spacing:0.365px">Change= .55 Vol= 1656</div>
<div class="t" style="left:36.90px;top:33.00px;letter-spacing:1.018px">12/ 9/ 15- 12/ 5/ 16</div>
<div class="t" style="left:530.75px;top:32.00px;letter-spacing:0.181px">BULLISH PRICE TREND</div>
<div class="t" style="left:549.50px;top:44.00px;letter-spacing:0.088px">Year&#x27;s Gain= 44.7%</div>
<div class="t" style="left:549.50px;top:56.00px;letter-spacing:-0.042px">% of days up= 55.4%</div>
<div class="t" style="left:549.50px;top:70.00px;letter-spacing:-0.150px">% of openings up= 45%</div>
<div class="t" style="left:549.50px;top:83.00px;letter-spacing:-0.125px">% of closings up= 53.4%</div>
<div class="t" style="left:549.50px;top:97.00px;letter-spacing:0.088px">65-day gain= 25.6%</div>
<div class="t" style="left:530.75px;top:115.00px;letter-spacing:0.125px">5dma= 28.7 21dma= 26.9 65dma=24.6</div>
<div class="t" style="left:530.75px;top:129.00px;letter-spacing:-0.109px">Rising 5-dma rising 21-dma rising 65-dma</div>
<div class="t" style="left:530.75px;top:145.00px;letter-spacing:-0.047px">5dmaAROC= 210.5 %</div>
<div class="t" style="left:660.75px;top:145.00px;letter-spacing:0.295px">PivotP= 28.3</div>
<div class="t" style="left:549.50px;top:161.00px;letter-spacing:-0.062px">65d-PR%= 100%</div>
<div class="t" style="left:530.75px;top:179.00px;letter-spacing:-0.094px">Public is bearish</div>
<div class="t" style="left:549.50px;top:193.00px;letter-spacing:-0.091px">65d-OP%= 22%</div>
<div class="t" style="left:530.75px;top:211.00px;letter-spacing:-0.198px">Professionals are bullish</div>
<div class="t" style="left:549.50px;top:225.00px;letter-spacing:-0.125px">65d-CP%= 100%</div>
<div class="t" style="left:530.75px;top:248.00px;letter-spacing:-0.396px">CP%vsPr%=  0%</div>
<div class="t" style="left:530.75px;top:266.00px;letter-spacing:0.100px">Strength Profess/Pub= 11.6</div>
<div class="t" style="left:530.75px;top:284.00px;letter-spacing:0.075px">CLOSING POWER (blue):</div>
<div class="t" style="left:530.75px;top:298.00px;letter-spacing:-0.458px">Bullish</div>
<div class="t" style="left:530.75px;top:321.00px;letter-spacing:-0.115px">OBV (magenta):</div>
<div class="t" style="left:530.75px;top:334.00px;letter-spacing:-0.458px">Bullish</div>
<div class="t" style="left:530.75px;top:355.00px;letter-spacing:0.163px">REL.STR..VS DJI (brown):</div>
<div class="t" style="left:530.75px;top:369.00px;letter-spacing:-0.458px">Bullish</div>
<div class="t" style="left:530.75px;top:382.00px;letter-spacing:0.611px">ITRS= .186</div>
<div class="t" style="left:530.75px;top:412.00px;letter-spacing:-0.223px">Bullish: Accumulation Rising.</div>
<div class="t" style="left:549.50px;top:423.00px;letter-spacing:0.594px">IP=  .313</div>
<div class="t" style="left:2.50px;top:458.00px;letter-spacing:0.420px">193.23</div>
<div class="t" style="left:27.00px;top:458.00px;letter-spacing:0.060px">Last 65 days stock changed</div>
<div class="t" style="left:194.60px;top:458.00px;letter-spacing:0.100px">25.6% or  5.81 points:</div>
<div class="t" style="left:328.00px;top:458.00px;letter-spacing:0.062px">Public accounts for -.55 points.;</div>
<div class="t" style="left:517.70px;top:458.00px;letter-spacing:-0.076px">Professionals account for  6.36 points.</div>
<div class="t" style="left:5.90px;top:471.00px">For Last year stock changed</div>
<div class="t" style="left:175.80px;top:471.00px;letter-spacing:-0.068px">44% or  9.01 points:</div>
<div class="t" style="left:295.70px;top:471.00px;letter-spacing:0.112px">Public accounts for -3.17 points.;</div>
<div class="t" style="left:493.30px;top:471.00px;letter-spacing:-0.028px">Professionals account for  12.18 points.</div>
<div class="t" style="left:5.60px;top:486.00px;letter-spacing:-0.065px">(Blue arrows)#2 Indicator=50-day OBV ma turns. Its gain= 49% Buy</div>
<div class="t" style="left:5.60px;top:499.00px">(Green arrows)#3 Indicator=50-day OBV ma penetrations. Its gain= 46.5% Buy</div>
<div class="t" style="left:1.90px;top:512.00px;letter-spacing:-0.044px">(Magenta arrows)#4 Indicator=50-day Closing Power ma turns. Its gain= 41.7% Buy</div>
<div class="t" style="left:47.00px;top:436.00px;letter-spacing:0.333px">-.25</div>
<div class="t" style="left:71.70px;top:444.00px">Jan</div>
<div class="t" style="left:108.00px;top:444.00px">Feb</div>
<div class="t" style="left:144.40px;top:444.00px">Mar</div>
<div class="t" style="left:184.20px;top:444.00px">Apr</div>
<div class="t" style="left:222.90px;top:444.00px">May</div>
<div class="t" style="left:261.00px;top:444.00px">Jun</div>
<div class="t" style="left:300.50px;top:444.00px">Jul</div>
<div class="t" style="left:336.90px;top:444.00px">Aug</div>
<div class="t" style="left:380.20px;top:444.00px">Sep</div>
<div class="t" style="left:418.40px;top:444.00px">Oct</div>
<div class="t" style="left:456.40px;top:444.00px">Nov</div>
<div class="t" style="left:495.00px;top:444.00px">Dec</div>
<div class="t" style="left:192.50px;top:309.00px;letter-spacing:-0.900px">B1</div>
<div class="t" style="left:210.00px;top:305.40px">B5</div>
<div class="t" style="left:241.00px;top:303.00px;letter-spacing:-1.500px">B1</div>
<div class="t" style="left:262.90px;top:296.60px;letter-spacing:0.350px">B5</div>
<div class="t" style="left:286.00px;top:291.00px;letter-spacing:-0.250px">B5</div>
<div class="t" style="left:314.00px;top:285.50px">B5</div>
<div class="t" style="left:371.75px;top:246.00px;letter-spacing:0.650px">B5</div>
<div class="t" style="left:463.60px;top:229.00px;letter-spacing:0.400px">B5</div>
<div class="t" style="left:6.00px;top:53.00px">29</div>
<div class="t" style="left:6.00px;top:73.00px">28</div>
<div class="t" style="left:6.00px;top:93.00px">27</div>
<div class="t" style="left:6.00px;top:114.00px">26</div>
<div class="t" style="left:6.00px;top:134.00px">25</div>
<div class="t" style="left:6.00px;top:154.00px">24</div>
<div class="t" style="left:6.00px;top:174.00px">23</div>
<div class="t" style="left:6.00px;top:194.00px">22</div>
<div class="t" style="left:6.00px;top:215.00px">21</div>
<div class="t" style="left:6.00px;top:235.00px">20</div>
<div class="t" style="left:6.00px;top:255.00px">19</div>
<div class="t" style="left:6.00px;top:275.00px">18</div>
</div>
</body></html>
